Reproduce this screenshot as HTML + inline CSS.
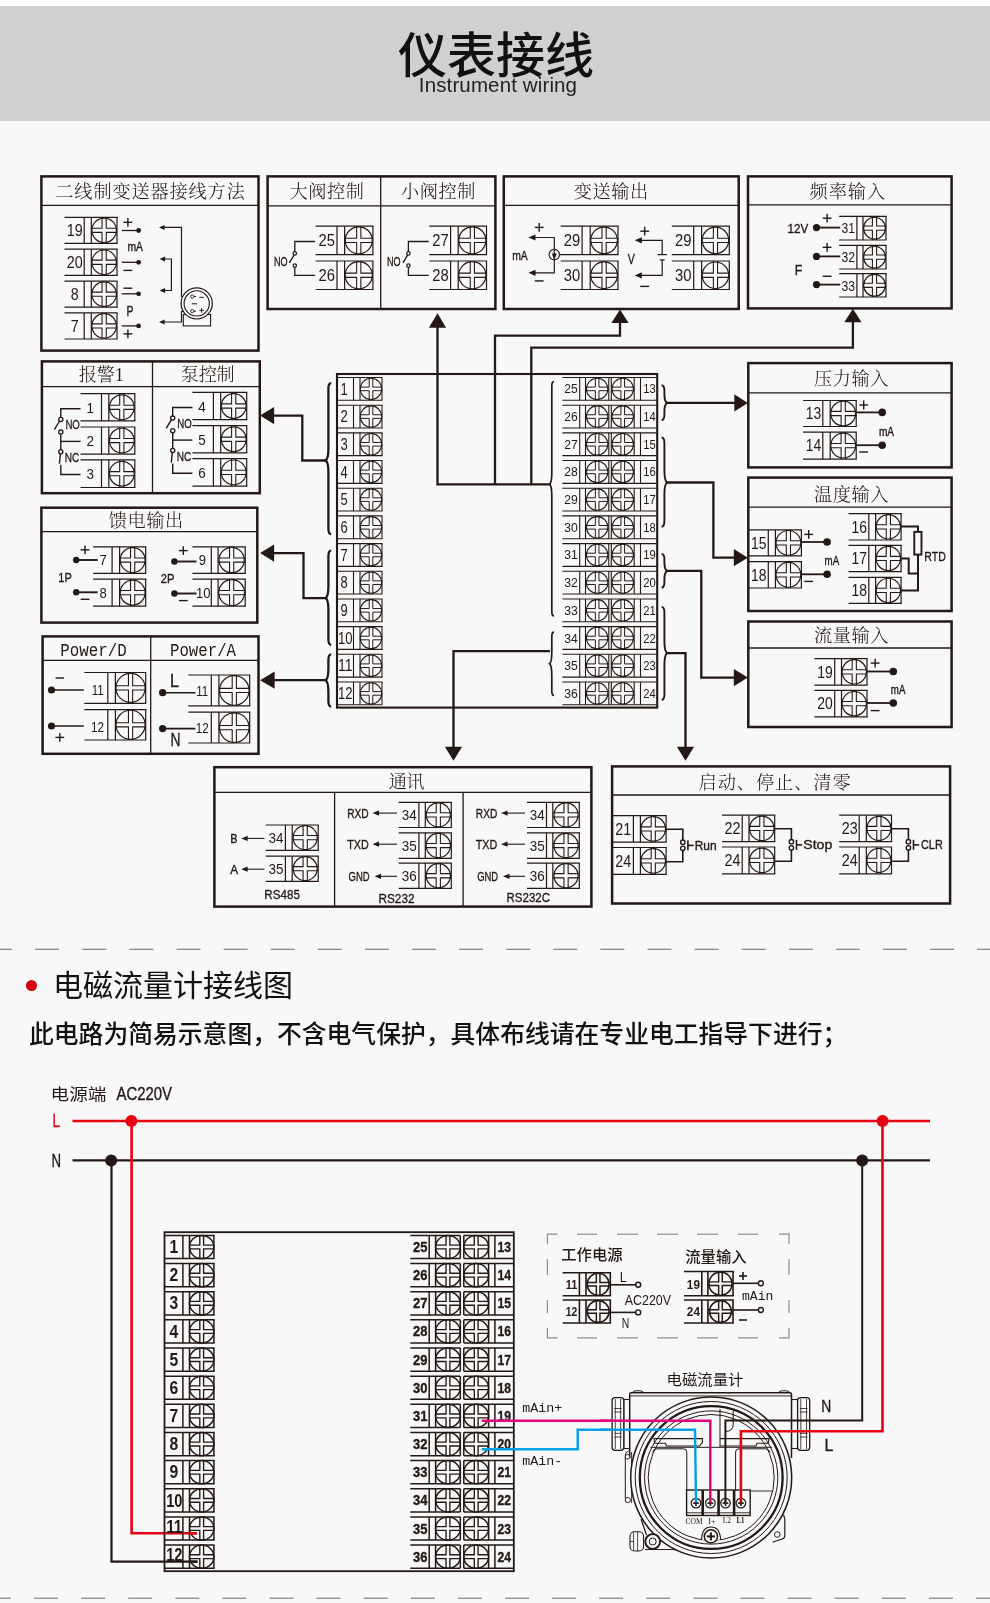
<!DOCTYPE html>
<html lang="zh-CN"><head><meta charset="utf-8"><title>仪表接线</title>
<style>
html,body{margin:0;padding:0;background:#fff;}
body{width:990px;height:1603px;position:relative;overflow:hidden;font-family:"Liberation Sans","Noto Sans CJK SC",sans-serif;color:#231815;}
.page{position:absolute;left:0;top:5.8px;width:990px;height:1598px;background:#f8f8f8;}
.hdr{position:absolute;left:0;top:5.8px;width:990px;height:114.8px;background:#d1cfd0;}
.hdr h1{position:absolute;left:0.6px;width:990px;top:22.3px;margin:0;text-align:center;font-size:49px;line-height:56px;font-weight:500;letter-spacing:0;color:#111;}
.hdr p{position:absolute;left:2.5px;width:990px;top:67.2px;margin:0;text-align:center;font-size:20.5px;line-height:24px;font-weight:400;letter-spacing:0.13px;color:#222;}
.dash{position:absolute;left:0;width:990px;height:0;border-top:1px solid #8a8a8a;}
.sec{position:absolute;left:53px;top:966.3px;margin:0;font-size:30px;line-height:40px;font-weight:400;color:#111;white-space:nowrap;}
.bul{position:absolute;left:25.5px;top:980.2px;width:11px;height:11px;border-radius:50%;background:#d7000f;}
.note{position:absolute;left:29px;top:1017px;margin:0;font-size:24.8px;line-height:36px;font-weight:500;color:#111;white-space:nowrap;}
svg{position:absolute;left:0;top:0;will-change:transform;}
.hdr h1,.hdr p,.sec,.note{will-change:transform;}
path,rect,circle,ellipse{fill:none;stroke:#231815;stroke-width:1.2;stroke-miterlimit:10;}
text{text-anchor:middle;fill:#231815;font-weight:400;}
text.s{font-family:"Liberation Sans","Noto Sans CJK SC",sans-serif;}
text.r{font-family:"Liberation Serif","Noto Serif CJK SC",serif;}
text.m{font-family:"Liberation Mono","Noto Sans CJK SC",monospace;}
text.b{stroke:#231815;stroke-width:0.35px;}
</style></head><body>
<div class="page"></div>
<div class="hdr"><h1>仪表接线</h1><p>Instrument wiring</p></div>
<span class="bul"></span><h2 class="sec">电磁流量计接线图</h2>
<p class="note">此电路为简易示意图，不含电气保护，具体布线请在专业电工指导下进行；</p>
<svg width="990" height="1603" viewBox="0 0 990 1603">
<line x1="-11.9" y1="949.25" x2="990" y2="949.25" stroke="#6a6a6a" stroke-width="1" stroke-dasharray="24 23.1"/>
<line x1="-13.1" y1="1598.2" x2="990" y2="1598.2" stroke="#6a6a6a" stroke-width="1" stroke-dasharray="24 23.1"/>
<rect x="41.4" y="176.4" width="217.1" height="174.2" style="stroke-width:2.5"/>
<path d="M41.4 205.4L258.5 205.4" style="stroke-width:1.3"/>
<text class="r" x="150.08" y="198.23" font-size="18.2" style="font-weight:300" textLength="189.56" lengthAdjust="spacing">二线制变送器接线方法</text>
<path d="M64.5 217.3L117.6 217.3"/>
<path d="M64.5 243.3L117.6 243.3"/>
<path d="M84.2 217.3L84.2 243.3"/>
<path d="M91.3 217.3L91.3 243.3"/>
<path d="M117 217.3L117 243.3"/>
<circle cx="104.15" cy="230.3" r="12.25"/>
<path d="M102.05 217.3V228.2H91.3 M106.25 217.3V228.2H117 M102.05 243.3V232.4H91.3 M106.25 243.3V232.4H117" style="stroke-width:1.08"/>
<text class="s" x="74.85" y="236.24" font-size="16.5" textLength="15.96" lengthAdjust="spacingAndGlyphs">19</text>
<path d="M64.5 249.2L117.6 249.2"/>
<path d="M64.5 275.3L117.6 275.3"/>
<path d="M84.2 249.2L84.2 275.3"/>
<path d="M91.3 249.2L91.3 275.3"/>
<path d="M117 249.2L117 275.3"/>
<circle cx="104.15" cy="262.25" r="12.25"/>
<path d="M102.05 249.2V260.15H91.3 M106.25 249.2V260.15H117 M102.05 275.3V264.35H91.3 M106.25 275.3V264.35H117" style="stroke-width:1.08"/>
<text class="s" x="74.85" y="268.19" font-size="16.5" textLength="15.96" lengthAdjust="spacingAndGlyphs">20</text>
<path d="M64.5 281.2L117.6 281.2"/>
<path d="M64.5 307.2L117.6 307.2"/>
<path d="M84.2 281.2L84.2 307.2"/>
<path d="M91.3 281.2L91.3 307.2"/>
<path d="M117 281.2L117 307.2"/>
<circle cx="104.15" cy="294.2" r="12.25"/>
<path d="M102.05 281.2V292.1H91.3 M106.25 281.2V292.1H117 M102.05 307.2V296.3H91.3 M106.25 307.2V296.3H117" style="stroke-width:1.08"/>
<text class="s" x="74.85" y="300.14" font-size="16.5" textLength="7.98" lengthAdjust="spacingAndGlyphs">8</text>
<path d="M64.5 312.9L117.6 312.9"/>
<path d="M64.5 339L117.6 339"/>
<path d="M84.2 312.9L84.2 339"/>
<path d="M91.3 312.9L91.3 339"/>
<path d="M117 312.9L117 339"/>
<circle cx="104.15" cy="325.95" r="12.25"/>
<path d="M102.05 312.9V323.85H91.3 M106.25 312.9V323.85H117 M102.05 339V328.05H91.3 M106.25 339V328.05H117" style="stroke-width:1.08"/>
<text class="s" x="74.85" y="331.89" font-size="16.5" textLength="7.98" lengthAdjust="spacingAndGlyphs">7</text>
<path d="M121.8 230.5L137 230.5" style="stroke-width:1.3"/>
<circle cx="138.6" cy="230.5" r="2.4" style="fill:#231815;stroke:none"/>
<path d="M121.8 262.3L137 262.3" style="stroke-width:1.3"/>
<circle cx="138.6" cy="262.3" r="2.4" style="fill:#231815;stroke:none"/>
<path d="M121.8 293.8L137 293.8" style="stroke-width:1.3"/>
<circle cx="138.6" cy="293.8" r="2.4" style="fill:#231815;stroke:none"/>
<path d="M121.8 325.9L137 325.9" style="stroke-width:1.3"/>
<circle cx="138.6" cy="325.9" r="2.4" style="fill:#231815;stroke:none"/>
<path d="M123.5 222.3L132.3 222.3" style="stroke-width:1.4"/>
<path d="M127.9 217.9L127.9 226.7" style="stroke-width:1.4"/>
<path d="M123.5 270.4L132.3 270.4" style="stroke-width:1.4"/>
<path d="M123.5 288.2L132.3 288.2" style="stroke-width:1.4"/>
<path d="M123.5 333.9L132.3 333.9" style="stroke-width:1.4"/>
<path d="M127.9 329.5L127.9 338.3" style="stroke-width:1.4"/>
<text class="s b" x="127.5" y="250.5" font-size="12.5" textLength="15.5" lengthAdjust="spacingAndGlyphs" style="text-anchor:start">mA</text>
<text class="s b" x="126.5" y="316.34" font-size="14" textLength="7" lengthAdjust="spacingAndGlyphs" style="text-anchor:start">P</text>
<path d="M163 227.4L181.5 227.4L181.5 296.5L190 296.5"/>
<polygon points="159,227.4 164.6,224.9 164.6,229.9" style="fill:#231815;stroke:none"/>
<path d="M163 259L171.4 259L171.4 290.5L163 290.5"/>
<polygon points="159.5,259 165.1,256.5 165.1,261.5" style="fill:#231815;stroke:none"/>
<polygon points="159.5,290.5 165.1,288 165.1,293" style="fill:#231815;stroke:none"/>
<path d="M163 322L181.5 322L181.5 311.5L190 311.5"/>
<polygon points="159,322 164.6,319.5 164.6,324.5" style="fill:#231815;stroke:none"/>
<rect x="183.3" y="314.5" width="27.3" height="11.4" style="stroke-width:1.1;fill:#f8f8f8"/>
<circle cx="196.7" cy="303.4" r="15.6" style="fill:#f8f8f8"/>
<circle cx="196.7" cy="303.4" r="12.6" style="stroke-width:1.1"/>
<circle cx="192.3" cy="296.5" r="1.6" style="stroke-width:0.9"/>
<circle cx="192.3" cy="311.2" r="1.6" style="stroke-width:0.9"/>
<path d="M193.9 296.5L196 296.5" style="stroke-width:0.9"/>
<path d="M193.9 311.2L196 311.2" style="stroke-width:0.9"/>
<path d="M199.4 297.3L203.8 297.3" style="stroke-width:1"/>
<path d="M191.9 303.8L197.1 303.8" style="stroke-width:1"/>
<path d="M199.4 310.4L203.8 310.4" style="stroke-width:1"/>
<path d="M201.6 308.2L201.6 312.6" style="stroke-width:1"/>
<rect x="267.6" y="176.4" width="227.8" height="132.6" style="stroke-width:2.5"/>
<path d="M267.6 205.8L495.4 205.8" style="stroke-width:1.3"/>
<path d="M380.7 176.4L380.7 309" style="stroke-width:1.3"/>
<text class="r" x="326.7" y="198.23" font-size="18.2" style="font-weight:300" textLength="74.4" lengthAdjust="spacing">大阀控制</text>
<text class="r" x="438.2" y="198.23" font-size="18.2" style="font-weight:300" textLength="74.4" lengthAdjust="spacing">小阀控制</text>
<path d="M315.6 226.1L373.5 226.1"/>
<path d="M315.6 254.6L373.5 254.6"/>
<path d="M337 226.1L337 254.6"/>
<path d="M344.6 226.1L344.6 254.6"/>
<path d="M372.9 226.1L372.9 254.6"/>
<circle cx="358.75" cy="240.35" r="13.55"/>
<path d="M356.65 226.1V238.25H344.6 M360.85 226.1V238.25H372.9 M356.65 254.6V242.45H344.6 M360.85 254.6V242.45H372.9" style="stroke-width:1.08"/>
<text class="s" x="326.8" y="246.47" font-size="17" textLength="16.45" lengthAdjust="spacingAndGlyphs">25</text>
<path d="M315.6 261L373.5 261"/>
<path d="M315.6 289.5L373.5 289.5"/>
<path d="M337 261L337 289.5"/>
<path d="M344.6 261L344.6 289.5"/>
<path d="M372.9 261L372.9 289.5"/>
<circle cx="358.75" cy="275.25" r="13.55"/>
<path d="M356.65 261V273.15H344.6 M360.85 261V273.15H372.9 M356.65 289.5V277.35H344.6 M360.85 289.5V277.35H372.9" style="stroke-width:1.08"/>
<text class="s" x="326.8" y="281.37" font-size="17" textLength="16.45" lengthAdjust="spacingAndGlyphs">26</text>
<path d="M315.1 241.5L294.8 241.5L294.8 251.6" style="stroke-width:1.3"/>
<circle cx="294.8" cy="253.4" r="1.7"/>
<path d="M315.1 275.4L294.8 275.4L294.8 267.4" style="stroke-width:1.3"/>
<circle cx="294.8" cy="265.6" r="1.7"/>
<path d="M294.1 254.9L289.4 262.8" style="stroke-width:1.3"/>
<text class="s b" x="273.9" y="265.68" font-size="13" textLength="13.6" lengthAdjust="spacingAndGlyphs" style="text-anchor:start">NO</text>
<path d="M429.2 226.1L487.1 226.1"/>
<path d="M429.2 254.6L487.1 254.6"/>
<path d="M450.6 226.1L450.6 254.6"/>
<path d="M458.2 226.1L458.2 254.6"/>
<path d="M486.5 226.1L486.5 254.6"/>
<circle cx="472.35" cy="240.35" r="13.55"/>
<path d="M470.25 226.1V238.25H458.2 M474.45 226.1V238.25H486.5 M470.25 254.6V242.45H458.2 M474.45 254.6V242.45H486.5" style="stroke-width:1.08"/>
<text class="s" x="440.4" y="246.47" font-size="17" textLength="16.45" lengthAdjust="spacingAndGlyphs">27</text>
<path d="M429.2 261L487.1 261"/>
<path d="M429.2 289.5L487.1 289.5"/>
<path d="M450.6 261L450.6 289.5"/>
<path d="M458.2 261L458.2 289.5"/>
<path d="M486.5 261L486.5 289.5"/>
<circle cx="472.35" cy="275.25" r="13.55"/>
<path d="M470.25 261V273.15H458.2 M474.45 261V273.15H486.5 M470.25 289.5V277.35H458.2 M474.45 289.5V277.35H486.5" style="stroke-width:1.08"/>
<text class="s" x="440.4" y="281.37" font-size="17" textLength="16.45" lengthAdjust="spacingAndGlyphs">28</text>
<path d="M428.7 241.5L408.4 241.5L408.4 251.6" style="stroke-width:1.3"/>
<circle cx="408.4" cy="253.4" r="1.7"/>
<path d="M428.7 275.4L408.4 275.4L408.4 267.4" style="stroke-width:1.3"/>
<circle cx="408.4" cy="265.6" r="1.7"/>
<path d="M407.7 254.9L403 262.8" style="stroke-width:1.3"/>
<text class="s b" x="387" y="265.68" font-size="13" textLength="13.6" lengthAdjust="spacingAndGlyphs" style="text-anchor:start">NO</text>
<rect x="503.8" y="176.4" width="234.9" height="132.6" style="stroke-width:2.5"/>
<path d="M503.8 205.4L738.7 205.4" style="stroke-width:1.3"/>
<text class="r" x="611" y="198.23" font-size="18.2" style="font-weight:300" textLength="74.4" lengthAdjust="spacing">变送输出</text>
<path d="M560.7 226.1L618.6 226.1"/>
<path d="M560.7 254.6L618.6 254.6"/>
<path d="M582.1 226.1L582.1 254.6"/>
<path d="M590.2 226.1L590.2 254.6"/>
<path d="M618 226.1L618 254.6"/>
<circle cx="604.1" cy="240.35" r="13.3"/>
<path d="M602 226.1V238.25H590.2 M606.2 226.1V238.25H618 M602 254.6V242.45H590.2 M606.2 254.6V242.45H618" style="stroke-width:1.08"/>
<text class="s" x="571.9" y="246.47" font-size="17" textLength="16.45" lengthAdjust="spacingAndGlyphs">29</text>
<path d="M560.7 261L618.6 261"/>
<path d="M560.7 289.5L618.6 289.5"/>
<path d="M582.1 261L582.1 289.5"/>
<path d="M590.2 261L590.2 289.5"/>
<path d="M618 261L618 289.5"/>
<circle cx="604.1" cy="275.25" r="13.3"/>
<path d="M602 261V273.15H590.2 M606.2 261V273.15H618 M602 289.5V277.35H590.2 M606.2 289.5V277.35H618" style="stroke-width:1.08"/>
<text class="s" x="571.9" y="281.37" font-size="17" textLength="16.45" lengthAdjust="spacingAndGlyphs">30</text>
<path d="M671.8 226.1L729.9 226.1"/>
<path d="M671.8 254.6L729.9 254.6"/>
<path d="M693.7 226.1L693.7 254.6"/>
<path d="M701.6 226.1L701.6 254.6"/>
<path d="M729.3 226.1L729.3 254.6"/>
<circle cx="715.45" cy="240.35" r="13.25"/>
<path d="M713.35 226.1V238.25H701.6 M717.55 226.1V238.25H729.3 M713.35 254.6V242.45H701.6 M717.55 254.6V242.45H729.3" style="stroke-width:1.08"/>
<text class="s" x="683.25" y="246.47" font-size="17" textLength="16.45" lengthAdjust="spacingAndGlyphs">29</text>
<path d="M671.8 261L729.9 261"/>
<path d="M671.8 289.5L729.9 289.5"/>
<path d="M693.7 261L693.7 289.5"/>
<path d="M701.6 261L701.6 289.5"/>
<path d="M729.3 261L729.3 289.5"/>
<circle cx="715.45" cy="275.25" r="13.25"/>
<path d="M713.35 261V273.15H701.6 M717.55 261V273.15H729.3 M713.35 289.5V277.35H701.6 M717.55 289.5V277.35H729.3" style="stroke-width:1.08"/>
<text class="s" x="683.25" y="281.37" font-size="17" textLength="16.45" lengthAdjust="spacingAndGlyphs">30</text>
<text class="s b" x="512.2" y="260.18" font-size="13" textLength="15.6" lengthAdjust="spacingAndGlyphs" style="text-anchor:start">mA</text>
<path d="M533 237.5L554.3 237.5L554.3 272.8L533 272.8"/>
<polygon points="528.5,237.5 535.5,234.4 535.5,240.6" style="fill:#231815;stroke:none"/>
<polygon points="528.5,272.8 535.5,269.7 535.5,275.9" style="fill:#231815;stroke:none"/>
<circle cx="554.3" cy="254.6" r="5.2" style="stroke-width:1.1"/>
<polygon points="554.3,259.4 551.7,253.4 556.9,253.4" style="fill:#231815;stroke:none"/>
<path d="M559.5 254.6L561 254.6"/>
<path d="M534.8 227.4L543.6 227.4" style="stroke-width:1.4"/>
<path d="M539.2 223L539.2 231.8" style="stroke-width:1.4"/>
<path d="M534.8 280.9L543.6 280.9" style="stroke-width:1.4"/>
<text class="s b" x="627.8" y="264.34" font-size="14" textLength="7" lengthAdjust="spacingAndGlyphs" style="text-anchor:start">V</text>
<path d="M639 240.3L662.2 240.3L662.2 254.6"/>
<path d="M657.5 254.6L667 254.6"/>
<path d="M659.7 259.9L664.7 259.9"/>
<path d="M662.2 259.9L662.2 275.4L639 275.4"/>
<polygon points="634.8,240.3 641.8,237.2 641.8,243.4" style="fill:#231815;stroke:none"/>
<polygon points="634.8,275.4 641.8,272.3 641.8,278.5" style="fill:#231815;stroke:none"/>
<path d="M640.3 231.2L649.1 231.2" style="stroke-width:1.4"/>
<path d="M644.7 226.8L644.7 235.6" style="stroke-width:1.4"/>
<path d="M640.3 286.4L649.1 286.4" style="stroke-width:1.4"/>
<rect x="748" y="176.4" width="203.6" height="132" style="stroke-width:2.5"/>
<path d="M748 204.9L951.6 204.9" style="stroke-width:1.3"/>
<text class="r" x="847.37" y="198.23" font-size="18.2" style="font-weight:300" textLength="75.73" lengthAdjust="spacing">频率输入</text>
<path d="M839.2 216.3L886.6 216.3"/>
<path d="M839.2 240L886.6 240"/>
<path d="M856.9 216.3L856.9 240"/>
<path d="M863 216.3L863 240"/>
<path d="M886 216.3L886 240"/>
<circle cx="874.5" cy="228.15" r="10.9"/>
<path d="M872.4 216.3V226.05H863 M876.6 216.3V226.05H886 M872.4 240V230.25H863 M876.6 240V230.25H886" style="stroke-width:1.08"/>
<text class="s" x="848.3" y="233.37" font-size="14.5" textLength="13.5" lengthAdjust="spacingAndGlyphs">31</text>
<path d="M816.5 227.6L840.2 227.6" style="stroke-width:1.8"/>
<circle cx="816.5" cy="227.6" r="3.6" style="fill:#231815;stroke:none"/>
<path d="M839.2 245.3L886.6 245.3"/>
<path d="M839.2 269L886.6 269"/>
<path d="M856.9 245.3L856.9 269"/>
<path d="M863 245.3L863 269"/>
<path d="M886 245.3L886 269"/>
<circle cx="874.5" cy="257.15" r="10.9"/>
<path d="M872.4 245.3V255.05H863 M876.6 245.3V255.05H886 M872.4 269V259.25H863 M876.6 269V259.25H886" style="stroke-width:1.08"/>
<text class="s" x="848.3" y="262.37" font-size="14.5" textLength="13.5" lengthAdjust="spacingAndGlyphs">32</text>
<path d="M816.5 256.4L840.2 256.4" style="stroke-width:1.8"/>
<circle cx="816.5" cy="256.4" r="3.6" style="fill:#231815;stroke:none"/>
<path d="M839.2 273.6L886.6 273.6"/>
<path d="M839.2 297L886.6 297"/>
<path d="M856.9 273.6L856.9 297"/>
<path d="M863 273.6L863 297"/>
<path d="M886 273.6L886 297"/>
<circle cx="874.5" cy="285.3" r="10.9"/>
<path d="M872.4 273.6V283.2H863 M876.6 273.6V283.2H886 M872.4 297V287.4H863 M876.6 297V287.4H886" style="stroke-width:1.08"/>
<text class="s" x="848.3" y="290.52" font-size="14.5" textLength="13.5" lengthAdjust="spacingAndGlyphs">33</text>
<path d="M816.5 284.6L840.2 284.6" style="stroke-width:1.8"/>
<circle cx="816.5" cy="284.6" r="3.6" style="fill:#231815;stroke:none"/>
<path d="M822.7 218.2L831.5 218.2" style="stroke-width:1.4"/>
<path d="M827.1 213.8L827.1 222.6" style="stroke-width:1.4"/>
<path d="M822.7 247.3L831.5 247.3" style="stroke-width:1.4"/>
<path d="M827.1 242.9L827.1 251.7" style="stroke-width:1.4"/>
<path d="M822.7 276.3L831.5 276.3" style="stroke-width:1.4"/>
<text class="s b" x="787.5" y="232.98" font-size="13" textLength="20.7" lengthAdjust="spacingAndGlyphs" style="text-anchor:start">12V</text>
<text class="s b" x="794.7" y="274.58" font-size="15.5" textLength="7.6" lengthAdjust="spacingAndGlyphs" style="text-anchor:start">F</text>
<rect x="41.9" y="361.4" width="217.9" height="131.8" style="stroke-width:2.5"/>
<path d="M41.9 386.6L259.8 386.6" style="stroke-width:1.3"/>
<path d="M152.5 361.4L152.5 493.2" style="stroke-width:1.3"/>
<text class="r" x="101.3" y="381.1" font-size="18.2" textLength="45.2" lengthAdjust="spacingAndGlyphs" style="font-weight:300">报警1</text>
<text class="r" x="207.8" y="381.23" font-size="18.2" style="font-weight:300" textLength="54" lengthAdjust="spacing">泵控制</text>
<path d="M80.5 393.7L135.4 393.7"/>
<path d="M80.5 420.9L135.4 420.9"/>
<path d="M101.5 393.7L101.5 420.9"/>
<path d="M108.8 393.7L108.8 420.9"/>
<path d="M134.8 393.7L134.8 420.9"/>
<circle cx="121.8" cy="407.3" r="12.4"/>
<path d="M119.7 393.7V405.2H108.8 M123.9 393.7V405.2H134.8 M119.7 420.9V409.4H108.8 M123.9 420.9V409.4H134.8" style="stroke-width:1.08"/>
<text class="s" x="90.3" y="412.88" font-size="15.5" textLength="7.5" lengthAdjust="spacingAndGlyphs">1</text>
<path d="M80.5 427L135.4 427"/>
<path d="M80.5 454.1L135.4 454.1"/>
<path d="M101.5 427L101.5 454.1"/>
<path d="M108.8 427L108.8 454.1"/>
<path d="M134.8 427L134.8 454.1"/>
<circle cx="121.8" cy="440.55" r="12.4"/>
<path d="M119.7 427V438.45H108.8 M123.9 427V438.45H134.8 M119.7 454.1V442.65H108.8 M123.9 454.1V442.65H134.8" style="stroke-width:1.08"/>
<text class="s" x="90.3" y="446.13" font-size="15.5" textLength="7.5" lengthAdjust="spacingAndGlyphs">2</text>
<path d="M80.5 459.9L135.4 459.9"/>
<path d="M80.5 487.5L135.4 487.5"/>
<path d="M101.5 459.9L101.5 487.5"/>
<path d="M108.8 459.9L108.8 487.5"/>
<path d="M134.8 459.9L134.8 487.5"/>
<circle cx="121.8" cy="473.7" r="12.4"/>
<path d="M119.7 459.9V471.6H108.8 M123.9 459.9V471.6H134.8 M119.7 487.5V475.8H108.8 M123.9 487.5V475.8H134.8" style="stroke-width:1.08"/>
<text class="s" x="90.3" y="479.28" font-size="15.5" textLength="7.5" lengthAdjust="spacingAndGlyphs">3</text>
<path d="M80.5 408.8L60.8 408.8L60.8 417.2" style="stroke-width:1.4"/>
<circle cx="60.8" cy="419.4" r="2.1" style="stroke-width:1.3"/>
<path d="M59.6 421L54.3 429.7" style="stroke-width:1.4"/>
<circle cx="60.8" cy="432.1" r="2.1" style="stroke-width:1.3"/>
<path d="M60.8 434.2L60.8 449.6" style="stroke-width:1.4"/>
<path d="M60.8 441.4L80.5 441.4" style="stroke-width:1.4"/>
<circle cx="60.8" cy="451.8" r="2.1" style="stroke-width:1.3"/>
<path d="M60.4 453.9L59.4 463.8" style="stroke-width:1.4"/>
<path d="M60.8 464.8L60.8 474.5L80.5 474.5" style="stroke-width:1.4"/>
<text class="s b" x="65.4" y="428.86" font-size="13.5" textLength="14.5" lengthAdjust="spacingAndGlyphs" style="text-anchor:start">NO</text>
<text class="s b" x="64.8" y="461.86" font-size="13.5" textLength="14.5" lengthAdjust="spacingAndGlyphs" style="text-anchor:start">NC</text>
<path d="M192.4 392.4L247.3 392.4"/>
<path d="M192.4 419.6L247.3 419.6"/>
<path d="M213.4 392.4L213.4 419.6"/>
<path d="M220.7 392.4L220.7 419.6"/>
<path d="M246.7 392.4L246.7 419.6"/>
<circle cx="233.7" cy="406" r="12.4"/>
<path d="M231.6 392.4V403.9H220.7 M235.8 392.4V403.9H246.7 M231.6 419.6V408.1H220.7 M235.8 419.6V408.1H246.7" style="stroke-width:1.08"/>
<text class="s" x="202" y="411.58" font-size="15.5" textLength="7.5" lengthAdjust="spacingAndGlyphs">4</text>
<path d="M192.4 425.7L247.3 425.7"/>
<path d="M192.4 452.8L247.3 452.8"/>
<path d="M213.4 425.7L213.4 452.8"/>
<path d="M220.7 425.7L220.7 452.8"/>
<path d="M246.7 425.7L246.7 452.8"/>
<circle cx="233.7" cy="439.25" r="12.4"/>
<path d="M231.6 425.7V437.15H220.7 M235.8 425.7V437.15H246.7 M231.6 452.8V441.35H220.7 M235.8 452.8V441.35H246.7" style="stroke-width:1.08"/>
<text class="s" x="202" y="444.83" font-size="15.5" textLength="7.5" lengthAdjust="spacingAndGlyphs">5</text>
<path d="M192.4 458.6L247.3 458.6"/>
<path d="M192.4 486.2L247.3 486.2"/>
<path d="M213.4 458.6L213.4 486.2"/>
<path d="M220.7 458.6L220.7 486.2"/>
<path d="M246.7 458.6L246.7 486.2"/>
<circle cx="233.7" cy="472.4" r="12.4"/>
<path d="M231.6 458.6V470.3H220.7 M235.8 458.6V470.3H246.7 M231.6 486.2V474.5H220.7 M235.8 486.2V474.5H246.7" style="stroke-width:1.08"/>
<text class="s" x="202" y="477.98" font-size="15.5" textLength="7.5" lengthAdjust="spacingAndGlyphs">6</text>
<path d="M192.4 407.5L172.7 407.5L172.7 415.9" style="stroke-width:1.4"/>
<circle cx="172.7" cy="418.1" r="2.1" style="stroke-width:1.3"/>
<path d="M171.5 419.7L166.2 428.4" style="stroke-width:1.4"/>
<circle cx="172.7" cy="430.8" r="2.1" style="stroke-width:1.3"/>
<path d="M172.7 432.9L172.7 448.3" style="stroke-width:1.4"/>
<path d="M172.7 440.1L192.4 440.1" style="stroke-width:1.4"/>
<circle cx="172.7" cy="450.5" r="2.1" style="stroke-width:1.3"/>
<path d="M172.3 452.6L171.3 462.5" style="stroke-width:1.4"/>
<path d="M172.7 463.5L172.7 473.2L192.4 473.2" style="stroke-width:1.4"/>
<text class="s b" x="177.3" y="427.56" font-size="13.5" textLength="14.5" lengthAdjust="spacingAndGlyphs" style="text-anchor:start">NO</text>
<text class="s b" x="176.7" y="460.56" font-size="13.5" textLength="14.5" lengthAdjust="spacingAndGlyphs" style="text-anchor:start">NC</text>
<rect x="41.4" y="507.7" width="215.9" height="114.9" style="stroke-width:2.5"/>
<path d="M41.4 531.7L257.3 531.7" style="stroke-width:1.3"/>
<text class="r" x="146" y="527.03" font-size="18.2" style="font-weight:300" textLength="74.4" lengthAdjust="spacing">馈电输出</text>
<path d="M93.1 546.8L146.3 546.8"/>
<path d="M93.1 573.3L146.3 573.3"/>
<path d="M112.1 546.8L112.1 573.3"/>
<path d="M119.6 546.8L119.6 573.3"/>
<path d="M145.7 546.8L145.7 573.3"/>
<circle cx="132.65" cy="560.05" r="12.45"/>
<path d="M130.55 546.8V557.95H119.6 M134.75 546.8V557.95H145.7 M130.55 573.3V562.15H119.6 M134.75 573.3V562.15H145.7" style="stroke-width:1.08"/>
<text class="s" x="103.1" y="565.45" font-size="15" textLength="7.26" lengthAdjust="spacingAndGlyphs">7</text>
<path d="M93.1 579.1L146.3 579.1"/>
<path d="M93.1 606.2L146.3 606.2"/>
<path d="M112.1 579.1L112.1 606.2"/>
<path d="M119.6 579.1L119.6 606.2"/>
<path d="M145.7 579.1L145.7 606.2"/>
<circle cx="132.65" cy="592.65" r="12.45"/>
<path d="M130.55 579.1V590.55H119.6 M134.75 579.1V590.55H145.7 M130.55 606.2V594.75H119.6 M134.75 606.2V594.75H145.7" style="stroke-width:1.08"/>
<text class="s" x="103.1" y="598.05" font-size="15" textLength="7.26" lengthAdjust="spacingAndGlyphs">8</text>
<path d="M76.2 560L97.7 560" style="stroke-width:1.9"/>
<circle cx="76.2" cy="560" r="3.2" style="fill:#231815;stroke:none"/>
<path d="M76.2 592.3L97.7 592.3" style="stroke-width:1.9"/>
<circle cx="76.2" cy="592.3" r="3.2" style="fill:#231815;stroke:none"/>
<path d="M80.6 549.8L89.4 549.8" style="stroke-width:1.4"/>
<path d="M85 545.4L85 554.2" style="stroke-width:1.4"/>
<path d="M80.6 599.3L89.4 599.3" style="stroke-width:1.4"/>
<text class="s b" x="58.3" y="581.8" font-size="12.5" textLength="13.4" lengthAdjust="spacingAndGlyphs" style="text-anchor:start">1P</text>
<path d="M192.4 546.8L245.8 546.8"/>
<path d="M192.4 573.3L245.8 573.3"/>
<path d="M211.3 546.8L211.3 573.3"/>
<path d="M218.1 546.8L218.1 573.3"/>
<path d="M245.2 546.8L245.2 573.3"/>
<circle cx="231.65" cy="560.05" r="12.65"/>
<path d="M229.55 546.8V557.95H218.1 M233.75 546.8V557.95H245.2 M229.55 573.3V562.15H218.1 M233.75 573.3V562.15H245.2" style="stroke-width:1.08"/>
<text class="s" x="202.35" y="565.45" font-size="15" textLength="7.26" lengthAdjust="spacingAndGlyphs">9</text>
<path d="M192.4 579.1L245.8 579.1"/>
<path d="M192.4 606.2L245.8 606.2"/>
<path d="M211.3 579.1L211.3 606.2"/>
<path d="M218.1 579.1L218.1 606.2"/>
<path d="M245.2 579.1L245.2 606.2"/>
<circle cx="231.65" cy="592.65" r="12.95"/>
<path d="M229.55 579.1V590.55H218.1 M233.75 579.1V590.55H245.2 M229.55 606.2V594.75H218.1 M233.75 606.2V594.75H245.2" style="stroke-width:1.08"/>
<text class="s" x="203.3" y="598.05" font-size="15" textLength="14.5" lengthAdjust="spacingAndGlyphs">10</text>
<path d="M174.4 561.5L196.5 561.5" style="stroke-width:1.9"/>
<circle cx="174.4" cy="561.5" r="3.2" style="fill:#231815;stroke:none"/>
<path d="M174.4 593.5L196.5 593.5" style="stroke-width:1.9"/>
<circle cx="174.4" cy="593.5" r="3.2" style="fill:#231815;stroke:none"/>
<path d="M178.9 550.6L187.7 550.6" style="stroke-width:1.4"/>
<path d="M183.3 546.2L183.3 555" style="stroke-width:1.4"/>
<path d="M178.9 600.6L187.7 600.6" style="stroke-width:1.4"/>
<text class="s b" x="160.8" y="583.1" font-size="12.5" textLength="13.6" lengthAdjust="spacingAndGlyphs" style="text-anchor:start">2P</text>
<rect x="42.6" y="636.4" width="215.9" height="117.4" style="stroke-width:2.5"/>
<path d="M42.6 660.4L258.5 660.4" style="stroke-width:1.3"/>
<path d="M150.7 636.4L150.7 753.8" style="stroke-width:1.3"/>
<text class="m" x="93.4" y="656.3" font-size="18.5" textLength="66.5" lengthAdjust="spacingAndGlyphs">Power/D</text>
<text class="m" x="203" y="656.3" font-size="18.5" textLength="66" lengthAdjust="spacingAndGlyphs">Power/A</text>
<path d="M84.3 672.5L146.3 672.5"/>
<path d="M84.3 703.3L146.3 703.3"/>
<path d="M107.8 672.5L107.8 703.3"/>
<path d="M115.4 672.5L115.4 703.3"/>
<path d="M145.7 672.5L145.7 703.3"/>
<circle cx="130.55" cy="687.9" r="14.55"/>
<path d="M128.45 672.5V685.8H115.4 M132.65 672.5V685.8H145.7 M128.45 703.3V690H115.4 M132.65 703.3V690H145.7" style="stroke-width:1.08"/>
<text class="s" x="97.7" y="694.62" font-size="14.5" textLength="12" lengthAdjust="spacingAndGlyphs">11</text>
<path d="M84.3 709.6L146.3 709.6"/>
<path d="M84.3 740L146.3 740"/>
<path d="M107.8 709.6L107.8 740"/>
<path d="M115.4 709.6L115.4 740"/>
<path d="M145.7 709.6L145.7 740"/>
<circle cx="130.55" cy="724.8" r="14.55"/>
<path d="M128.45 709.6V722.7H115.4 M132.65 709.6V722.7H145.7 M128.45 740V726.9H115.4 M132.65 740V726.9H145.7" style="stroke-width:1.08"/>
<text class="s" x="97.5" y="732.02" font-size="14.5" textLength="13" lengthAdjust="spacingAndGlyphs">12</text>
<path d="M51.5 690L83.8 690" style="stroke-width:1.6"/>
<circle cx="51.5" cy="690" r="3.6" style="fill:#231815;stroke:none"/>
<path d="M51.5 726L83.8 726" style="stroke-width:1.6"/>
<circle cx="51.5" cy="726" r="3.6" style="fill:#231815;stroke:none"/>
<path d="M55.6 678L64 678" style="stroke-width:1.4"/>
<path d="M55.4 737.4L64.2 737.4" style="stroke-width:1.4"/>
<path d="M59.8 733L59.8 741.8" style="stroke-width:1.4"/>
<path d="M188.3 675L250.3 675"/>
<path d="M188.3 705.9L250.3 705.9"/>
<path d="M211.3 675L211.3 705.9"/>
<path d="M218.9 675L218.9 705.9"/>
<path d="M249.7 675L249.7 705.9"/>
<circle cx="234.3" cy="690.45" r="14.8"/>
<path d="M232.2 675V688.35H218.9 M236.4 675V688.35H249.7 M232.2 705.9V692.55H218.9 M236.4 705.9V692.55H249.7" style="stroke-width:1.08"/>
<text class="s" x="202.3" y="695.67" font-size="14.5" textLength="12" lengthAdjust="spacingAndGlyphs">11</text>
<path d="M188.3 712.2L250.3 712.2"/>
<path d="M188.3 743L250.3 743"/>
<path d="M211.3 712.2L211.3 743"/>
<path d="M218.9 712.2L218.9 743"/>
<path d="M249.7 712.2L249.7 743"/>
<circle cx="234.3" cy="727.6" r="14.8"/>
<path d="M232.2 712.2V725.5H218.9 M236.4 712.2V725.5H249.7 M232.2 743V729.7H218.9 M236.4 743V729.7H249.7" style="stroke-width:1.08"/>
<text class="s" x="202.3" y="732.82" font-size="14.5" textLength="13" lengthAdjust="spacingAndGlyphs">12</text>
<path d="M162.6 692.7L195.4 692.7" style="stroke-width:1.6"/>
<circle cx="162.6" cy="692.7" r="3.6" style="fill:#231815;stroke:none"/>
<path d="M162.6 728.6L195.4 728.6" style="stroke-width:1.6"/>
<circle cx="162.6" cy="728.6" r="3.6" style="fill:#231815;stroke:none"/>
<text class="s b" x="174.4" y="687.28" font-size="18" textLength="9" lengthAdjust="spacingAndGlyphs">L</text>
<text class="s b" x="175.4" y="746.08" font-size="18" textLength="10" lengthAdjust="spacingAndGlyphs">N</text>
<rect x="214.4" y="767.2" width="377" height="139.4" style="stroke-width:2.5"/>
<path d="M214.4 792.4L591.4 792.4" style="stroke-width:1.3"/>
<path d="M334.6 792.4L334.6 906.6" style="stroke-width:1.3"/>
<path d="M463.1 792.4L463.1 906.6" style="stroke-width:1.3"/>
<text class="r" x="406.6" y="788.13" font-size="18.2" style="font-weight:300" textLength="35.6" lengthAdjust="spacing">通讯</text>
<path d="M265.7 825L318.8 825"/>
<path d="M265.7 850.3L318.8 850.3"/>
<path d="M285.4 825L285.4 850.3"/>
<path d="M292.2 825L292.2 850.3"/>
<path d="M318.2 825L318.2 850.3"/>
<circle cx="305.2" cy="837.65" r="12.05"/>
<path d="M303.1 825V835.55H292.2 M307.3 825V835.55H318.2 M303.1 850.3V839.75H292.2 M307.3 850.3V839.75H318.2" style="stroke-width:1.08"/>
<text class="s" x="276.05" y="843.23" font-size="15.5" textLength="15" lengthAdjust="spacingAndGlyphs">34</text>
<path d="M265.7 856.1L318.8 856.1"/>
<path d="M265.7 881.3L318.8 881.3"/>
<path d="M285.4 856.1L285.4 881.3"/>
<path d="M292.2 856.1L292.2 881.3"/>
<path d="M318.2 856.1L318.2 881.3"/>
<circle cx="305.2" cy="868.7" r="12"/>
<path d="M303.1 856.1V866.6H292.2 M307.3 856.1V866.6H318.2 M303.1 881.3V870.8H292.2 M307.3 881.3V870.8H318.2" style="stroke-width:1.08"/>
<text class="s" x="276.05" y="874.28" font-size="15.5" textLength="15" lengthAdjust="spacingAndGlyphs">35</text>
<text class="s b" x="230.3" y="843.46" font-size="13.5" textLength="7.3" lengthAdjust="spacingAndGlyphs" style="text-anchor:start">B</text>
<path d="M264.4 838.4L245.2 838.4" style="stroke-width:1.1"/>
<polygon points="241.2,838.4 247.7,835.8 247.7,841" style="fill:#231815;stroke:none"/>
<text class="s b" x="230.3" y="874.26" font-size="13.5" textLength="7.8" lengthAdjust="spacingAndGlyphs" style="text-anchor:start">A</text>
<path d="M264.4 869.2L245.2 869.2" style="stroke-width:1.1"/>
<polygon points="241.2,869.2 247.7,866.6 247.7,871.8" style="fill:#231815;stroke:none"/>
<text class="s b" x="282.1" y="899.46" font-size="13.5" textLength="35.5" lengthAdjust="spacingAndGlyphs">RS485</text>
<path d="M398.7 802.3L451.9 802.3"/>
<path d="M398.7 827.5L451.9 827.5"/>
<path d="M418.9 802.3L418.9 827.5"/>
<path d="M425.3 802.3L425.3 827.5"/>
<path d="M451.3 802.3L451.3 827.5"/>
<circle cx="438.3" cy="814.9" r="12"/>
<path d="M436.2 802.3V812.8H425.3 M440.4 802.3V812.8H451.3 M436.2 827.5V817H425.3 M440.4 827.5V817H451.3" style="stroke-width:1.08"/>
<text class="s" x="409.3" y="820.48" font-size="15.5" textLength="15" lengthAdjust="spacingAndGlyphs">34</text>
<path d="M527 802.3L579.9 802.3"/>
<path d="M527 827.5L579.9 827.5"/>
<path d="M546.5 802.3L546.5 827.5"/>
<path d="M552.8 802.3L552.8 827.5"/>
<path d="M579.3 802.3L579.3 827.5"/>
<circle cx="566.05" cy="814.9" r="12"/>
<path d="M563.95 802.3V812.8H552.8 M568.15 802.3V812.8H579.3 M563.95 827.5V817H552.8 M568.15 827.5V817H579.3" style="stroke-width:1.08"/>
<text class="s" x="537.25" y="820.48" font-size="15.5" textLength="15" lengthAdjust="spacingAndGlyphs">34</text>
<path d="M398.7 832.8L451.9 832.8"/>
<path d="M398.7 858.3L451.9 858.3"/>
<path d="M418.9 832.8L418.9 858.3"/>
<path d="M425.3 832.8L425.3 858.3"/>
<path d="M451.3 832.8L451.3 858.3"/>
<circle cx="438.3" cy="845.55" r="12.15"/>
<path d="M436.2 832.8V843.45H425.3 M440.4 832.8V843.45H451.3 M436.2 858.3V847.65H425.3 M440.4 858.3V847.65H451.3" style="stroke-width:1.08"/>
<text class="s" x="409.3" y="851.13" font-size="15.5" textLength="15" lengthAdjust="spacingAndGlyphs">35</text>
<path d="M527 832.8L579.9 832.8"/>
<path d="M527 858.3L579.9 858.3"/>
<path d="M546.5 832.8L546.5 858.3"/>
<path d="M552.8 832.8L552.8 858.3"/>
<path d="M579.3 832.8L579.3 858.3"/>
<circle cx="566.05" cy="845.55" r="12.15"/>
<path d="M563.95 832.8V843.45H552.8 M568.15 832.8V843.45H579.3 M563.95 858.3V847.65H552.8 M568.15 858.3V847.65H579.3" style="stroke-width:1.08"/>
<text class="s" x="537.25" y="851.13" font-size="15.5" textLength="15" lengthAdjust="spacingAndGlyphs">35</text>
<path d="M398.7 863.1L451.9 863.1"/>
<path d="M398.7 888.4L451.9 888.4"/>
<path d="M418.9 863.1L418.9 888.4"/>
<path d="M425.3 863.1L425.3 888.4"/>
<path d="M451.3 863.1L451.3 888.4"/>
<circle cx="438.3" cy="875.75" r="12.05"/>
<path d="M436.2 863.1V873.65H425.3 M440.4 863.1V873.65H451.3 M436.2 888.4V877.85H425.3 M440.4 888.4V877.85H451.3" style="stroke-width:1.08"/>
<text class="s" x="409.3" y="881.33" font-size="15.5" textLength="15" lengthAdjust="spacingAndGlyphs">36</text>
<path d="M527 863.1L579.9 863.1"/>
<path d="M527 888.4L579.9 888.4"/>
<path d="M546.5 863.1L546.5 888.4"/>
<path d="M552.8 863.1L552.8 888.4"/>
<path d="M579.3 863.1L579.3 888.4"/>
<circle cx="566.05" cy="875.75" r="12.05"/>
<path d="M563.95 863.1V873.65H552.8 M568.15 863.1V873.65H579.3 M563.95 888.4V877.85H552.8 M568.15 888.4V877.85H579.3" style="stroke-width:1.08"/>
<text class="s" x="537.25" y="881.33" font-size="15.5" textLength="15" lengthAdjust="spacingAndGlyphs">36</text>
<text class="s b" x="347.2" y="818.16" font-size="13.5" textLength="21.5" lengthAdjust="spacingAndGlyphs" style="text-anchor:start">RXD</text>
<path d="M397 813.1L376.5 813.1" style="stroke-width:1.1"/>
<polygon points="372.5,813.1 379,810.5 379,815.7" style="fill:#231815;stroke:none"/>
<text class="s b" x="475.8" y="818.16" font-size="13.5" textLength="21.5" lengthAdjust="spacingAndGlyphs" style="text-anchor:start">RXD</text>
<path d="M525 813.1L505 813.1" style="stroke-width:1.1"/>
<polygon points="501,813.1 507.5,810.5 507.5,815.7" style="fill:#231815;stroke:none"/>
<text class="s b" x="347.2" y="849.26" font-size="13.5" textLength="21.5" lengthAdjust="spacingAndGlyphs" style="text-anchor:start">TXD</text>
<path d="M397 844.2L376.5 844.2" style="stroke-width:1.1"/>
<polygon points="372.5,844.2 379,841.6 379,846.8" style="fill:#231815;stroke:none"/>
<text class="s b" x="475.8" y="849.26" font-size="13.5" textLength="21.5" lengthAdjust="spacingAndGlyphs" style="text-anchor:start">TXD</text>
<path d="M525 844.2L505 844.2" style="stroke-width:1.1"/>
<polygon points="501,844.2 507.5,841.6 507.5,846.8" style="fill:#231815;stroke:none"/>
<text class="s b" x="348.6" y="881.36" font-size="13.5" textLength="21" lengthAdjust="spacingAndGlyphs" style="text-anchor:start">GND</text>
<path d="M397 876.3L378.5 876.3" style="stroke-width:1.1"/>
<polygon points="374.5,876.3 381,873.7 381,878.9" style="fill:#231815;stroke:none"/>
<text class="s b" x="477.2" y="881.36" font-size="13.5" textLength="21" lengthAdjust="spacingAndGlyphs" style="text-anchor:start">GND</text>
<path d="M525 876.3L507 876.3" style="stroke-width:1.1"/>
<polygon points="503,876.3 509.5,873.7 509.5,878.9" style="fill:#231815;stroke:none"/>
<text class="s b" x="396.5" y="902.76" font-size="13.5" textLength="36" lengthAdjust="spacingAndGlyphs">RS232</text>
<text class="s b" x="528.3" y="902.06" font-size="13.5" textLength="43.5" lengthAdjust="spacingAndGlyphs">RS232C</text>
<rect x="612.1" y="766.4" width="338" height="137.1" style="stroke-width:2.5"/>
<path d="M612.1 795L950.1 795" style="stroke-width:1.3"/>
<text class="r" x="774.61" y="789.03" font-size="18.2" style="font-weight:300" textLength="152.11" lengthAdjust="spacing">启动、停止、清零</text>
<path d="M612.1 815.7L666.7 815.7"/>
<path d="M612.1 842.2L666.7 842.2"/>
<path d="M633.4 815.7L633.4 842.2"/>
<path d="M640.4 815.7L640.4 842.2"/>
<path d="M666.1 815.7L666.1 842.2"/>
<circle cx="653.25" cy="828.95" r="12.25"/>
<path d="M651.15 815.7V826.85H640.4 M655.35 815.7V826.85H666.1 M651.15 842.2V831.05H640.4 M655.35 842.2V831.05H666.1" style="stroke-width:1.08"/>
<text class="s" x="623.25" y="834.89" font-size="16.5" textLength="15.96" lengthAdjust="spacingAndGlyphs">21</text>
<path d="M612.1 847.5L666.7 847.5"/>
<path d="M612.1 874.3L666.7 874.3"/>
<path d="M633.4 847.5L633.4 874.3"/>
<path d="M640.4 847.5L640.4 874.3"/>
<path d="M666.1 847.5L666.1 874.3"/>
<circle cx="653.25" cy="860.9" r="12.25"/>
<path d="M651.15 847.5V858.8H640.4 M655.35 847.5V858.8H666.1 M651.15 874.3V863H640.4 M655.35 874.3V863H666.1" style="stroke-width:1.08"/>
<text class="s" x="623.25" y="866.84" font-size="16.5" textLength="15.96" lengthAdjust="spacingAndGlyphs">24</text>
<path d="M666.1 829.3L682.8 829.3L682.8 839.9" style="stroke-width:1.6"/>
<circle cx="682.8" cy="842.2" r="2.2" style="stroke-width:1.4"/>
<circle cx="682.8" cy="848.3" r="2.2" style="stroke-width:1.4"/>
<path d="M666.1 861.7L682.8 861.7L682.8 850.6" style="stroke-width:1.6"/>
<path d="M687.9 840.3L687.9 850.3" style="stroke-width:1.6"/>
<path d="M687.9 845.4L693.6 845.4" style="stroke-width:1.6"/>
<text class="s b" x="694.7" y="849.88" font-size="13" textLength="22" lengthAdjust="spacingAndGlyphs" style="text-anchor:start">Run</text>
<path d="M722 815.2L775.3 815.2"/>
<path d="M722 841.7L775.3 841.7"/>
<path d="M742.2 815.2L742.2 841.7"/>
<path d="M749 815.2L749 841.7"/>
<path d="M774.7 815.2L774.7 841.7"/>
<circle cx="761.85" cy="828.45" r="12.25"/>
<path d="M759.75 815.2V826.35H749 M763.95 815.2V826.35H774.7 M759.75 841.7V830.55H749 M763.95 841.7V830.55H774.7" style="stroke-width:1.08"/>
<text class="s" x="732.6" y="834.39" font-size="16.5" textLength="15.96" lengthAdjust="spacingAndGlyphs">22</text>
<path d="M722 847L775.3 847"/>
<path d="M722 873.8L775.3 873.8"/>
<path d="M742.2 847L742.2 873.8"/>
<path d="M749 847L749 873.8"/>
<path d="M774.7 847L774.7 873.8"/>
<circle cx="761.85" cy="860.4" r="12.25"/>
<path d="M759.75 847V858.3H749 M763.95 847V858.3H774.7 M759.75 873.8V862.5H749 M763.95 873.8V862.5H774.7" style="stroke-width:1.08"/>
<text class="s" x="732.6" y="866.34" font-size="16.5" textLength="15.96" lengthAdjust="spacingAndGlyphs">24</text>
<path d="M774.7 828.8L791.4 828.8L791.4 839.4" style="stroke-width:1.6"/>
<circle cx="791.4" cy="841.7" r="2.2" style="stroke-width:1.4"/>
<circle cx="791.4" cy="847.8" r="2.2" style="stroke-width:1.4"/>
<path d="M774.7 861.2L791.4 861.2L791.4 850.1" style="stroke-width:1.6"/>
<path d="M796.5 839.8L796.5 849.8" style="stroke-width:1.6"/>
<path d="M796.5 844.9L802.2 844.9" style="stroke-width:1.6"/>
<text class="s b" x="803.3" y="849.38" font-size="13" textLength="29" lengthAdjust="spacingAndGlyphs" style="text-anchor:start">Stop</text>
<path d="M839.2 815.2L892.1 815.2"/>
<path d="M839.2 841.7L892.1 841.7"/>
<path d="M859.2 815.2L859.2 841.7"/>
<path d="M866.3 815.2L866.3 841.7"/>
<path d="M891.5 815.2L891.5 841.7"/>
<circle cx="878.9" cy="828.45" r="12"/>
<path d="M876.8 815.2V826.35H866.3 M881 815.2V826.35H891.5 M876.8 841.7V830.55H866.3 M881 841.7V830.55H891.5" style="stroke-width:1.08"/>
<text class="s" x="849.7" y="834.39" font-size="16.5" textLength="15.96" lengthAdjust="spacingAndGlyphs">23</text>
<path d="M839.2 847L892.1 847"/>
<path d="M839.2 873.8L892.1 873.8"/>
<path d="M859.2 847L859.2 873.8"/>
<path d="M866.3 847L866.3 873.8"/>
<path d="M891.5 847L891.5 873.8"/>
<circle cx="878.9" cy="860.4" r="12"/>
<path d="M876.8 847V858.3H866.3 M881 847V858.3H891.5 M876.8 873.8V862.5H866.3 M881 873.8V862.5H891.5" style="stroke-width:1.08"/>
<text class="s" x="849.7" y="866.34" font-size="16.5" textLength="15.96" lengthAdjust="spacingAndGlyphs">24</text>
<path d="M891.5 828.8L908.4 828.8L908.4 839.4" style="stroke-width:1.6"/>
<circle cx="908.4" cy="841.7" r="2.2" style="stroke-width:1.4"/>
<circle cx="908.4" cy="847.8" r="2.2" style="stroke-width:1.4"/>
<path d="M891.5 861.2L908.4 861.2L908.4 850.1" style="stroke-width:1.6"/>
<path d="M913.5 839.8L913.5 849.8" style="stroke-width:1.6"/>
<path d="M913.5 844.9L919.2 844.9" style="stroke-width:1.6"/>
<text class="s b" x="921" y="849.38" font-size="13" textLength="21.8" lengthAdjust="spacingAndGlyphs" style="text-anchor:start">CLR</text>
<rect x="748.3" y="363.1" width="203.3" height="104.3" style="stroke-width:2.5"/>
<path d="M748.3 392.9L951.6 392.9" style="stroke-width:1.3"/>
<text class="r" x="851.23" y="385.03" font-size="18.2" style="font-weight:300" textLength="74.67" lengthAdjust="spacing">压力输入</text>
<path d="M803.1 400.5L856.8 400.5"/>
<path d="M803.1 426.5L856.8 426.5"/>
<path d="M822.8 400.5L822.8 426.5"/>
<path d="M830.2 400.5L830.2 426.5"/>
<path d="M856.2 400.5L856.2 426.5"/>
<circle cx="843.2" cy="413.5" r="12.4"/>
<path d="M841.1 400.5V411.4H830.2 M845.3 400.5V411.4H856.2 M841.1 426.5V415.6H830.2 M845.3 426.5V415.6H856.2" style="stroke-width:1.08"/>
<text class="s" x="813.45" y="419.26" font-size="16" textLength="15.48" lengthAdjust="spacingAndGlyphs">13</text>
<path d="M803.1 432.1L856.8 432.1"/>
<path d="M803.1 459.1L856.8 459.1"/>
<path d="M822.8 432.1L822.8 459.1"/>
<path d="M830.2 432.1L830.2 459.1"/>
<path d="M856.2 432.1L856.2 459.1"/>
<circle cx="843.2" cy="445.6" r="12.4"/>
<path d="M841.1 432.1V443.5H830.2 M845.3 432.1V443.5H856.2 M841.1 459.1V447.7H830.2 M845.3 459.1V447.7H856.2" style="stroke-width:1.08"/>
<text class="s" x="813.45" y="451.36" font-size="16" textLength="15.48" lengthAdjust="spacingAndGlyphs">14</text>
<path d="M856.2 412.4L882 412.4" style="stroke-width:1.8"/>
<circle cx="882.2" cy="412.4" r="3.8" style="fill:#231815;stroke:none"/>
<path d="M856.2 445.2L882 445.2" style="stroke-width:1.8"/>
<circle cx="882.2" cy="445.2" r="3.8" style="fill:#231815;stroke:none"/>
<path d="M859.3 405L868.1 405" style="stroke-width:1.4"/>
<path d="M863.7 400.6L863.7 409.4" style="stroke-width:1.4"/>
<path d="M859.3 452L868.1 452" style="stroke-width:1.4"/>
<text class="s b" x="878.9" y="435.5" font-size="12.5" textLength="15.1" lengthAdjust="spacingAndGlyphs" style="text-anchor:start">mA</text>
<rect x="748.3" y="477.6" width="203.3" height="133.4" style="stroke-width:2.5"/>
<path d="M748.3 507.2L951.6 507.2" style="stroke-width:1.3"/>
<text class="r" x="851.23" y="500.73" font-size="18.2" style="font-weight:300" textLength="74.67" lengthAdjust="spacing">温度输入</text>
<path d="M748.3 529.9L802 529.9"/>
<path d="M748.3 555.9L802 555.9"/>
<path d="M768.3 529.9L768.3 555.9"/>
<path d="M775.4 529.9L775.4 555.9"/>
<path d="M801.4 529.9L801.4 555.9"/>
<circle cx="788.4" cy="542.9" r="12.4"/>
<path d="M786.3 529.9V540.8H775.4 M790.5 529.9V540.8H801.4 M786.3 555.9V545H775.4 M790.5 555.9V545H801.4" style="stroke-width:1.08"/>
<text class="s" x="758.8" y="548.66" font-size="16" textLength="15.48" lengthAdjust="spacingAndGlyphs">15</text>
<path d="M748.3 561.7L802 561.7"/>
<path d="M748.3 588L802 588"/>
<path d="M768.3 561.7L768.3 588"/>
<path d="M775.4 561.7L775.4 588"/>
<path d="M801.4 561.7L801.4 588"/>
<circle cx="788.4" cy="574.85" r="12.4"/>
<path d="M786.3 561.7V572.75H775.4 M790.5 561.7V572.75H801.4 M786.3 588V576.95H775.4 M790.5 588V576.95H801.4" style="stroke-width:1.08"/>
<text class="s" x="758.8" y="580.61" font-size="16" textLength="15.48" lengthAdjust="spacingAndGlyphs">18</text>
<path d="M801.4 542L827 542" style="stroke-width:1.8"/>
<circle cx="827.1" cy="542" r="3.8" style="fill:#231815;stroke:none"/>
<path d="M801.4 574.3L827 574.3" style="stroke-width:1.8"/>
<circle cx="827.1" cy="574.3" r="3.8" style="fill:#231815;stroke:none"/>
<path d="M804.3 534.4L813.1 534.4" style="stroke-width:1.4"/>
<path d="M808.7 530L808.7 538.8" style="stroke-width:1.4"/>
<path d="M804.3 581.4L813.1 581.4" style="stroke-width:1.4"/>
<text class="s b" x="824.6" y="564.9" font-size="12.5" textLength="14.6" lengthAdjust="spacingAndGlyphs" style="text-anchor:start">mA</text>
<path d="M848.6 513.7L901.7 513.7"/>
<path d="M848.6 540L901.7 540"/>
<path d="M868.8 513.7L868.8 540"/>
<path d="M875.6 513.7L875.6 540"/>
<path d="M901.1 513.7L901.1 540"/>
<circle cx="888.35" cy="526.85" r="12.15"/>
<path d="M886.25 513.7V524.75H875.6 M890.45 513.7V524.75H901.1 M886.25 540V528.95H875.6 M890.45 540V528.95H901.1" style="stroke-width:1.08"/>
<text class="s" x="859.2" y="532.61" font-size="16" textLength="15.48" lengthAdjust="spacingAndGlyphs">16</text>
<path d="M848.6 545.3L901.7 545.3"/>
<path d="M848.6 571.6L901.7 571.6"/>
<path d="M868.8 545.3L868.8 571.6"/>
<path d="M875.6 545.3L875.6 571.6"/>
<path d="M901.1 545.3L901.1 571.6"/>
<circle cx="888.35" cy="558.45" r="12.15"/>
<path d="M886.25 545.3V556.35H875.6 M890.45 545.3V556.35H901.1 M886.25 571.6V560.55H875.6 M890.45 571.6V560.55H901.1" style="stroke-width:1.08"/>
<text class="s" x="859.2" y="564.21" font-size="16" textLength="15.48" lengthAdjust="spacingAndGlyphs">17</text>
<path d="M848.6 577.4L901.7 577.4"/>
<path d="M848.6 603.4L901.7 603.4"/>
<path d="M868.8 577.4L868.8 603.4"/>
<path d="M875.6 577.4L875.6 603.4"/>
<path d="M901.1 577.4L901.1 603.4"/>
<circle cx="888.35" cy="590.4" r="12.15"/>
<path d="M886.25 577.4V588.3H875.6 M890.45 577.4V588.3H901.1 M886.25 603.4V592.5H875.6 M890.45 603.4V592.5H901.1" style="stroke-width:1.08"/>
<text class="s" x="859.2" y="596.16" font-size="16" textLength="15.48" lengthAdjust="spacingAndGlyphs">18</text>
<path d="M901.1 526.4L918 526.4L918 531.9" style="stroke-width:2"/>
<rect x="914.3" y="531.9" width="7.2" height="22.7" style="stroke-width:1.9"/>
<path d="M918 554.6L918 590.5L901.1 590.5" style="stroke-width:2"/>
<path d="M901.1 558.4L908.7 558.4L908.7 573.6L918 573.6" style="stroke-width:2"/>
<text class="s b" x="924.3" y="560.6" font-size="12.5" textLength="21.5" lengthAdjust="spacingAndGlyphs" style="text-anchor:start">RTD</text>
<rect x="748.3" y="621.5" width="203.3" height="105.5" style="stroke-width:2.5"/>
<path d="M748.3 648L951.6 648" style="stroke-width:1.3"/>
<text class="r" x="851.23" y="641.53" font-size="18.2" style="font-weight:300" textLength="74.67" lengthAdjust="spacing">流量输入</text>
<path d="M814.5 658.6L867.6 658.6"/>
<path d="M814.5 685.1L867.6 685.1"/>
<path d="M834.7 658.6L834.7 685.1"/>
<path d="M841.5 658.6L841.5 685.1"/>
<path d="M867 658.6L867 685.1"/>
<circle cx="854.25" cy="671.85" r="12.15"/>
<path d="M852.15 658.6V669.75H841.5 M856.35 658.6V669.75H867 M852.15 685.1V673.95H841.5 M856.35 685.1V673.95H867" style="stroke-width:1.08"/>
<text class="s" x="825.1" y="677.61" font-size="16" textLength="15.48" lengthAdjust="spacingAndGlyphs">19</text>
<path d="M814.5 690.4L867.6 690.4"/>
<path d="M814.5 716.9L867.6 716.9"/>
<path d="M834.7 690.4L834.7 716.9"/>
<path d="M841.5 690.4L841.5 716.9"/>
<path d="M867 690.4L867 716.9"/>
<circle cx="854.25" cy="703.65" r="12.15"/>
<path d="M852.15 690.4V701.55H841.5 M856.35 690.4V701.55H867 M852.15 716.9V705.75H841.5 M856.35 716.9V705.75H867" style="stroke-width:1.08"/>
<text class="s" x="825.1" y="709.41" font-size="16" textLength="15.48" lengthAdjust="spacingAndGlyphs">20</text>
<path d="M867 671.5L893 671.5" style="stroke-width:1.8"/>
<circle cx="893.3" cy="671.5" r="3.8" style="fill:#231815;stroke:none"/>
<path d="M867 703L893 703" style="stroke-width:1.8"/>
<circle cx="893.3" cy="703" r="3.8" style="fill:#231815;stroke:none"/>
<path d="M870.7 663.1L879.5 663.1" style="stroke-width:1.4"/>
<path d="M875.1 658.7L875.1 667.5" style="stroke-width:1.4"/>
<path d="M870.7 710.6L879.5 710.6" style="stroke-width:1.4"/>
<text class="s b" x="890.8" y="693.6" font-size="12.5" textLength="14.6" lengthAdjust="spacingAndGlyphs" style="text-anchor:start">mA</text>
<rect x="337" y="374" width="320.2" height="333.6" style="stroke-width:2.1"/>
<path d="M337.4 377.5L382.55 377.5" style="stroke-width:1.1"/>
<path d="M337.4 400.3L382.55 400.3" style="stroke-width:1.1"/>
<path d="M353.5 377.5L353.5 400.3" style="stroke-width:1.1"/>
<path d="M360 377.5L360 400.3" style="stroke-width:1.1"/>
<path d="M382 377.5L382 400.3" style="stroke-width:1.1"/>
<circle cx="371" cy="388.9" r="10.7" style="stroke-width:1.1"/>
<path d="M369.2 377.5V387.1H360 M372.8 377.5V387.1H382 M369.2 400.3V390.7H360 M372.8 400.3V390.7H382" style="stroke-width:0.99"/>
<text class="s" x="344.2" y="394.66" font-size="16" textLength="7.2" lengthAdjust="spacingAndGlyphs">1</text>
<path d="M562.4 377.5L656.6 377.5" style="stroke-width:1.1"/>
<path d="M562.4 400.3L656.6 400.3" style="stroke-width:1.1"/>
<path d="M579.7 377.5L579.7 400.3" style="stroke-width:1.1"/>
<path d="M585.5 377.5L585.5 400.3" style="stroke-width:1.1"/>
<path d="M608.8 377.5L608.8 400.3" style="stroke-width:1.1"/>
<path d="M611.3 377.5L611.3 400.3" style="stroke-width:1.1"/>
<path d="M634.2 377.5L634.2 400.3" style="stroke-width:1.1"/>
<path d="M640.5 377.5L640.5 400.3" style="stroke-width:1.1"/>
<circle cx="597.15" cy="388.9" r="10.7" style="stroke-width:1.1"/>
<path d="M595.35 377.5V387.1H585.5 M598.95 377.5V387.1H608.8 M595.35 400.3V390.7H585.5 M598.95 400.3V390.7H608.8" style="stroke-width:0.99"/>
<circle cx="622.75" cy="388.9" r="10.7" style="stroke-width:1.1"/>
<path d="M620.95 377.5V387.1H611.3 M624.55 377.5V387.1H634.2 M620.95 400.3V390.7H611.3 M624.55 400.3V390.7H634.2" style="stroke-width:0.99"/>
<text class="s" x="570.9" y="393.4" font-size="12.5" textLength="13.5" lengthAdjust="spacingAndGlyphs">25</text>
<text class="s" x="649.6" y="393.4" font-size="12.5" textLength="12.5" lengthAdjust="spacingAndGlyphs">13</text>
<path d="M337.4 405.18L382.55 405.18" style="stroke-width:1.1"/>
<path d="M337.4 427.98L382.55 427.98" style="stroke-width:1.1"/>
<path d="M353.5 405.18L353.5 427.98" style="stroke-width:1.1"/>
<path d="M360 405.18L360 427.98" style="stroke-width:1.1"/>
<path d="M382 405.18L382 427.98" style="stroke-width:1.1"/>
<circle cx="371" cy="416.58" r="10.7" style="stroke-width:1.1"/>
<path d="M369.2 405.18V414.78H360 M372.8 405.18V414.78H382 M369.2 427.98V418.38H360 M372.8 427.98V418.38H382" style="stroke-width:0.99"/>
<text class="s" x="344.2" y="422.34" font-size="16" textLength="7.2" lengthAdjust="spacingAndGlyphs">2</text>
<path d="M562.4 405.18L656.6 405.18" style="stroke-width:1.1"/>
<path d="M562.4 427.98L656.6 427.98" style="stroke-width:1.1"/>
<path d="M579.7 405.18L579.7 427.98" style="stroke-width:1.1"/>
<path d="M585.5 405.18L585.5 427.98" style="stroke-width:1.1"/>
<path d="M608.8 405.18L608.8 427.98" style="stroke-width:1.1"/>
<path d="M611.3 405.18L611.3 427.98" style="stroke-width:1.1"/>
<path d="M634.2 405.18L634.2 427.98" style="stroke-width:1.1"/>
<path d="M640.5 405.18L640.5 427.98" style="stroke-width:1.1"/>
<circle cx="597.15" cy="416.58" r="10.7" style="stroke-width:1.1"/>
<path d="M595.35 405.18V414.78H585.5 M598.95 405.18V414.78H608.8 M595.35 427.98V418.38H585.5 M598.95 427.98V418.38H608.8" style="stroke-width:0.99"/>
<circle cx="622.75" cy="416.58" r="10.7" style="stroke-width:1.1"/>
<path d="M620.95 405.18V414.78H611.3 M624.55 405.18V414.78H634.2 M620.95 427.98V418.38H611.3 M624.55 427.98V418.38H634.2" style="stroke-width:0.99"/>
<text class="s" x="570.9" y="421.08" font-size="12.5" textLength="13.5" lengthAdjust="spacingAndGlyphs">26</text>
<text class="s" x="649.6" y="421.08" font-size="12.5" textLength="12.5" lengthAdjust="spacingAndGlyphs">14</text>
<path d="M337.4 432.86L382.55 432.86" style="stroke-width:1.1"/>
<path d="M337.4 455.66L382.55 455.66" style="stroke-width:1.1"/>
<path d="M353.5 432.86L353.5 455.66" style="stroke-width:1.1"/>
<path d="M360 432.86L360 455.66" style="stroke-width:1.1"/>
<path d="M382 432.86L382 455.66" style="stroke-width:1.1"/>
<circle cx="371" cy="444.26" r="10.7" style="stroke-width:1.1"/>
<path d="M369.2 432.86V442.46H360 M372.8 432.86V442.46H382 M369.2 455.66V446.06H360 M372.8 455.66V446.06H382" style="stroke-width:0.99"/>
<text class="s" x="344.2" y="450.02" font-size="16" textLength="7.2" lengthAdjust="spacingAndGlyphs">3</text>
<path d="M562.4 432.86L656.6 432.86" style="stroke-width:1.1"/>
<path d="M562.4 455.66L656.6 455.66" style="stroke-width:1.1"/>
<path d="M579.7 432.86L579.7 455.66" style="stroke-width:1.1"/>
<path d="M585.5 432.86L585.5 455.66" style="stroke-width:1.1"/>
<path d="M608.8 432.86L608.8 455.66" style="stroke-width:1.1"/>
<path d="M611.3 432.86L611.3 455.66" style="stroke-width:1.1"/>
<path d="M634.2 432.86L634.2 455.66" style="stroke-width:1.1"/>
<path d="M640.5 432.86L640.5 455.66" style="stroke-width:1.1"/>
<circle cx="597.15" cy="444.26" r="10.7" style="stroke-width:1.1"/>
<path d="M595.35 432.86V442.46H585.5 M598.95 432.86V442.46H608.8 M595.35 455.66V446.06H585.5 M598.95 455.66V446.06H608.8" style="stroke-width:0.99"/>
<circle cx="622.75" cy="444.26" r="10.7" style="stroke-width:1.1"/>
<path d="M620.95 432.86V442.46H611.3 M624.55 432.86V442.46H634.2 M620.95 455.66V446.06H611.3 M624.55 455.66V446.06H634.2" style="stroke-width:0.99"/>
<text class="s" x="570.9" y="448.76" font-size="12.5" textLength="13.5" lengthAdjust="spacingAndGlyphs">27</text>
<text class="s" x="649.6" y="448.76" font-size="12.5" textLength="12.5" lengthAdjust="spacingAndGlyphs">15</text>
<path d="M337.4 460.54L382.55 460.54" style="stroke-width:1.1"/>
<path d="M337.4 483.34L382.55 483.34" style="stroke-width:1.1"/>
<path d="M353.5 460.54L353.5 483.34" style="stroke-width:1.1"/>
<path d="M360 460.54L360 483.34" style="stroke-width:1.1"/>
<path d="M382 460.54L382 483.34" style="stroke-width:1.1"/>
<circle cx="371" cy="471.94" r="10.7" style="stroke-width:1.1"/>
<path d="M369.2 460.54V470.14H360 M372.8 460.54V470.14H382 M369.2 483.34V473.74H360 M372.8 483.34V473.74H382" style="stroke-width:0.99"/>
<text class="s" x="344.2" y="477.7" font-size="16" textLength="7.2" lengthAdjust="spacingAndGlyphs">4</text>
<path d="M562.4 460.54L656.6 460.54" style="stroke-width:1.1"/>
<path d="M562.4 483.34L656.6 483.34" style="stroke-width:1.1"/>
<path d="M579.7 460.54L579.7 483.34" style="stroke-width:1.1"/>
<path d="M585.5 460.54L585.5 483.34" style="stroke-width:1.1"/>
<path d="M608.8 460.54L608.8 483.34" style="stroke-width:1.1"/>
<path d="M611.3 460.54L611.3 483.34" style="stroke-width:1.1"/>
<path d="M634.2 460.54L634.2 483.34" style="stroke-width:1.1"/>
<path d="M640.5 460.54L640.5 483.34" style="stroke-width:1.1"/>
<circle cx="597.15" cy="471.94" r="10.7" style="stroke-width:1.1"/>
<path d="M595.35 460.54V470.14H585.5 M598.95 460.54V470.14H608.8 M595.35 483.34V473.74H585.5 M598.95 483.34V473.74H608.8" style="stroke-width:0.99"/>
<circle cx="622.75" cy="471.94" r="10.7" style="stroke-width:1.1"/>
<path d="M620.95 460.54V470.14H611.3 M624.55 460.54V470.14H634.2 M620.95 483.34V473.74H611.3 M624.55 483.34V473.74H634.2" style="stroke-width:0.99"/>
<text class="s" x="570.9" y="476.44" font-size="12.5" textLength="13.5" lengthAdjust="spacingAndGlyphs">28</text>
<text class="s" x="649.6" y="476.44" font-size="12.5" textLength="12.5" lengthAdjust="spacingAndGlyphs">16</text>
<path d="M337.4 488.22L382.55 488.22" style="stroke-width:1.1"/>
<path d="M337.4 511.02L382.55 511.02" style="stroke-width:1.1"/>
<path d="M353.5 488.22L353.5 511.02" style="stroke-width:1.1"/>
<path d="M360 488.22L360 511.02" style="stroke-width:1.1"/>
<path d="M382 488.22L382 511.02" style="stroke-width:1.1"/>
<circle cx="371" cy="499.62" r="10.7" style="stroke-width:1.1"/>
<path d="M369.2 488.22V497.82H360 M372.8 488.22V497.82H382 M369.2 511.02V501.42H360 M372.8 511.02V501.42H382" style="stroke-width:0.99"/>
<text class="s" x="344.2" y="505.38" font-size="16" textLength="7.2" lengthAdjust="spacingAndGlyphs">5</text>
<path d="M562.4 488.22L656.6 488.22" style="stroke-width:1.1"/>
<path d="M562.4 511.02L656.6 511.02" style="stroke-width:1.1"/>
<path d="M579.7 488.22L579.7 511.02" style="stroke-width:1.1"/>
<path d="M585.5 488.22L585.5 511.02" style="stroke-width:1.1"/>
<path d="M608.8 488.22L608.8 511.02" style="stroke-width:1.1"/>
<path d="M611.3 488.22L611.3 511.02" style="stroke-width:1.1"/>
<path d="M634.2 488.22L634.2 511.02" style="stroke-width:1.1"/>
<path d="M640.5 488.22L640.5 511.02" style="stroke-width:1.1"/>
<circle cx="597.15" cy="499.62" r="10.7" style="stroke-width:1.1"/>
<path d="M595.35 488.22V497.82H585.5 M598.95 488.22V497.82H608.8 M595.35 511.02V501.42H585.5 M598.95 511.02V501.42H608.8" style="stroke-width:0.99"/>
<circle cx="622.75" cy="499.62" r="10.7" style="stroke-width:1.1"/>
<path d="M620.95 488.22V497.82H611.3 M624.55 488.22V497.82H634.2 M620.95 511.02V501.42H611.3 M624.55 511.02V501.42H634.2" style="stroke-width:0.99"/>
<text class="s" x="570.9" y="504.12" font-size="12.5" textLength="13.5" lengthAdjust="spacingAndGlyphs">29</text>
<text class="s" x="649.6" y="504.12" font-size="12.5" textLength="12.5" lengthAdjust="spacingAndGlyphs">17</text>
<path d="M337.4 515.9L382.55 515.9" style="stroke-width:1.1"/>
<path d="M337.4 538.7L382.55 538.7" style="stroke-width:1.1"/>
<path d="M353.5 515.9L353.5 538.7" style="stroke-width:1.1"/>
<path d="M360 515.9L360 538.7" style="stroke-width:1.1"/>
<path d="M382 515.9L382 538.7" style="stroke-width:1.1"/>
<circle cx="371" cy="527.3" r="10.7" style="stroke-width:1.1"/>
<path d="M369.2 515.9V525.5H360 M372.8 515.9V525.5H382 M369.2 538.7V529.1H360 M372.8 538.7V529.1H382" style="stroke-width:0.99"/>
<text class="s" x="344.2" y="533.06" font-size="16" textLength="7.2" lengthAdjust="spacingAndGlyphs">6</text>
<path d="M562.4 515.9L656.6 515.9" style="stroke-width:1.1"/>
<path d="M562.4 538.7L656.6 538.7" style="stroke-width:1.1"/>
<path d="M579.7 515.9L579.7 538.7" style="stroke-width:1.1"/>
<path d="M585.5 515.9L585.5 538.7" style="stroke-width:1.1"/>
<path d="M608.8 515.9L608.8 538.7" style="stroke-width:1.1"/>
<path d="M611.3 515.9L611.3 538.7" style="stroke-width:1.1"/>
<path d="M634.2 515.9L634.2 538.7" style="stroke-width:1.1"/>
<path d="M640.5 515.9L640.5 538.7" style="stroke-width:1.1"/>
<circle cx="597.15" cy="527.3" r="10.7" style="stroke-width:1.1"/>
<path d="M595.35 515.9V525.5H585.5 M598.95 515.9V525.5H608.8 M595.35 538.7V529.1H585.5 M598.95 538.7V529.1H608.8" style="stroke-width:0.99"/>
<circle cx="622.75" cy="527.3" r="10.7" style="stroke-width:1.1"/>
<path d="M620.95 515.9V525.5H611.3 M624.55 515.9V525.5H634.2 M620.95 538.7V529.1H611.3 M624.55 538.7V529.1H634.2" style="stroke-width:0.99"/>
<text class="s" x="570.9" y="531.8" font-size="12.5" textLength="13.5" lengthAdjust="spacingAndGlyphs">30</text>
<text class="s" x="649.6" y="531.8" font-size="12.5" textLength="12.5" lengthAdjust="spacingAndGlyphs">18</text>
<path d="M337.4 543.58L382.55 543.58" style="stroke-width:1.1"/>
<path d="M337.4 566.38L382.55 566.38" style="stroke-width:1.1"/>
<path d="M353.5 543.58L353.5 566.38" style="stroke-width:1.1"/>
<path d="M360 543.58L360 566.38" style="stroke-width:1.1"/>
<path d="M382 543.58L382 566.38" style="stroke-width:1.1"/>
<circle cx="371" cy="554.98" r="10.7" style="stroke-width:1.1"/>
<path d="M369.2 543.58V553.18H360 M372.8 543.58V553.18H382 M369.2 566.38V556.78H360 M372.8 566.38V556.78H382" style="stroke-width:0.99"/>
<text class="s" x="344.2" y="560.74" font-size="16" textLength="7.2" lengthAdjust="spacingAndGlyphs">7</text>
<path d="M562.4 543.58L656.6 543.58" style="stroke-width:1.1"/>
<path d="M562.4 566.38L656.6 566.38" style="stroke-width:1.1"/>
<path d="M579.7 543.58L579.7 566.38" style="stroke-width:1.1"/>
<path d="M585.5 543.58L585.5 566.38" style="stroke-width:1.1"/>
<path d="M608.8 543.58L608.8 566.38" style="stroke-width:1.1"/>
<path d="M611.3 543.58L611.3 566.38" style="stroke-width:1.1"/>
<path d="M634.2 543.58L634.2 566.38" style="stroke-width:1.1"/>
<path d="M640.5 543.58L640.5 566.38" style="stroke-width:1.1"/>
<circle cx="597.15" cy="554.98" r="10.7" style="stroke-width:1.1"/>
<path d="M595.35 543.58V553.18H585.5 M598.95 543.58V553.18H608.8 M595.35 566.38V556.78H585.5 M598.95 566.38V556.78H608.8" style="stroke-width:0.99"/>
<circle cx="622.75" cy="554.98" r="10.7" style="stroke-width:1.1"/>
<path d="M620.95 543.58V553.18H611.3 M624.55 543.58V553.18H634.2 M620.95 566.38V556.78H611.3 M624.55 566.38V556.78H634.2" style="stroke-width:0.99"/>
<text class="s" x="570.9" y="559.48" font-size="12.5" textLength="13.5" lengthAdjust="spacingAndGlyphs">31</text>
<text class="s" x="649.6" y="559.48" font-size="12.5" textLength="12.5" lengthAdjust="spacingAndGlyphs">19</text>
<path d="M337.4 571.26L382.55 571.26" style="stroke-width:1.1"/>
<path d="M337.4 594.06L382.55 594.06" style="stroke-width:1.1"/>
<path d="M353.5 571.26L353.5 594.06" style="stroke-width:1.1"/>
<path d="M360 571.26L360 594.06" style="stroke-width:1.1"/>
<path d="M382 571.26L382 594.06" style="stroke-width:1.1"/>
<circle cx="371" cy="582.66" r="10.7" style="stroke-width:1.1"/>
<path d="M369.2 571.26V580.86H360 M372.8 571.26V580.86H382 M369.2 594.06V584.46H360 M372.8 594.06V584.46H382" style="stroke-width:0.99"/>
<text class="s" x="344.2" y="588.42" font-size="16" textLength="7.2" lengthAdjust="spacingAndGlyphs">8</text>
<path d="M562.4 571.26L656.6 571.26" style="stroke-width:1.1"/>
<path d="M562.4 594.06L656.6 594.06" style="stroke-width:1.1"/>
<path d="M579.7 571.26L579.7 594.06" style="stroke-width:1.1"/>
<path d="M585.5 571.26L585.5 594.06" style="stroke-width:1.1"/>
<path d="M608.8 571.26L608.8 594.06" style="stroke-width:1.1"/>
<path d="M611.3 571.26L611.3 594.06" style="stroke-width:1.1"/>
<path d="M634.2 571.26L634.2 594.06" style="stroke-width:1.1"/>
<path d="M640.5 571.26L640.5 594.06" style="stroke-width:1.1"/>
<circle cx="597.15" cy="582.66" r="10.7" style="stroke-width:1.1"/>
<path d="M595.35 571.26V580.86H585.5 M598.95 571.26V580.86H608.8 M595.35 594.06V584.46H585.5 M598.95 594.06V584.46H608.8" style="stroke-width:0.99"/>
<circle cx="622.75" cy="582.66" r="10.7" style="stroke-width:1.1"/>
<path d="M620.95 571.26V580.86H611.3 M624.55 571.26V580.86H634.2 M620.95 594.06V584.46H611.3 M624.55 594.06V584.46H634.2" style="stroke-width:0.99"/>
<text class="s" x="570.9" y="587.16" font-size="12.5" textLength="13.5" lengthAdjust="spacingAndGlyphs">32</text>
<text class="s" x="649.6" y="587.16" font-size="12.5" textLength="12.5" lengthAdjust="spacingAndGlyphs">20</text>
<path d="M337.4 598.94L382.55 598.94" style="stroke-width:1.1"/>
<path d="M337.4 621.74L382.55 621.74" style="stroke-width:1.1"/>
<path d="M353.5 598.94L353.5 621.74" style="stroke-width:1.1"/>
<path d="M360 598.94L360 621.74" style="stroke-width:1.1"/>
<path d="M382 598.94L382 621.74" style="stroke-width:1.1"/>
<circle cx="371" cy="610.34" r="10.7" style="stroke-width:1.1"/>
<path d="M369.2 598.94V608.54H360 M372.8 598.94V608.54H382 M369.2 621.74V612.14H360 M372.8 621.74V612.14H382" style="stroke-width:0.99"/>
<text class="s" x="344.2" y="616.1" font-size="16" textLength="7.2" lengthAdjust="spacingAndGlyphs">9</text>
<path d="M562.4 598.94L656.6 598.94" style="stroke-width:1.1"/>
<path d="M562.4 621.74L656.6 621.74" style="stroke-width:1.1"/>
<path d="M579.7 598.94L579.7 621.74" style="stroke-width:1.1"/>
<path d="M585.5 598.94L585.5 621.74" style="stroke-width:1.1"/>
<path d="M608.8 598.94L608.8 621.74" style="stroke-width:1.1"/>
<path d="M611.3 598.94L611.3 621.74" style="stroke-width:1.1"/>
<path d="M634.2 598.94L634.2 621.74" style="stroke-width:1.1"/>
<path d="M640.5 598.94L640.5 621.74" style="stroke-width:1.1"/>
<circle cx="597.15" cy="610.34" r="10.7" style="stroke-width:1.1"/>
<path d="M595.35 598.94V608.54H585.5 M598.95 598.94V608.54H608.8 M595.35 621.74V612.14H585.5 M598.95 621.74V612.14H608.8" style="stroke-width:0.99"/>
<circle cx="622.75" cy="610.34" r="10.7" style="stroke-width:1.1"/>
<path d="M620.95 598.94V608.54H611.3 M624.55 598.94V608.54H634.2 M620.95 621.74V612.14H611.3 M624.55 621.74V612.14H634.2" style="stroke-width:0.99"/>
<text class="s" x="570.9" y="614.84" font-size="12.5" textLength="13.5" lengthAdjust="spacingAndGlyphs">33</text>
<text class="s" x="649.6" y="614.84" font-size="12.5" textLength="12.5" lengthAdjust="spacingAndGlyphs">21</text>
<path d="M337.4 626.62L382.55 626.62" style="stroke-width:1.1"/>
<path d="M337.4 649.42L382.55 649.42" style="stroke-width:1.1"/>
<path d="M353.5 626.62L353.5 649.42" style="stroke-width:1.1"/>
<path d="M360 626.62L360 649.42" style="stroke-width:1.1"/>
<path d="M382 626.62L382 649.42" style="stroke-width:1.1"/>
<circle cx="371" cy="638.02" r="10.7" style="stroke-width:1.1"/>
<path d="M369.2 626.62V636.22H360 M372.8 626.62V636.22H382 M369.2 649.42V639.82H360 M372.8 649.42V639.82H382" style="stroke-width:0.99"/>
<text class="s" x="345.3" y="643.78" font-size="16" textLength="14.5" lengthAdjust="spacingAndGlyphs">10</text>
<path d="M562.4 626.62L656.6 626.62" style="stroke-width:1.1"/>
<path d="M562.4 649.42L656.6 649.42" style="stroke-width:1.1"/>
<path d="M579.7 626.62L579.7 649.42" style="stroke-width:1.1"/>
<path d="M585.5 626.62L585.5 649.42" style="stroke-width:1.1"/>
<path d="M608.8 626.62L608.8 649.42" style="stroke-width:1.1"/>
<path d="M611.3 626.62L611.3 649.42" style="stroke-width:1.1"/>
<path d="M634.2 626.62L634.2 649.42" style="stroke-width:1.1"/>
<path d="M640.5 626.62L640.5 649.42" style="stroke-width:1.1"/>
<circle cx="597.15" cy="638.02" r="10.7" style="stroke-width:1.1"/>
<path d="M595.35 626.62V636.22H585.5 M598.95 626.62V636.22H608.8 M595.35 649.42V639.82H585.5 M598.95 649.42V639.82H608.8" style="stroke-width:0.99"/>
<circle cx="622.75" cy="638.02" r="10.7" style="stroke-width:1.1"/>
<path d="M620.95 626.62V636.22H611.3 M624.55 626.62V636.22H634.2 M620.95 649.42V639.82H611.3 M624.55 649.42V639.82H634.2" style="stroke-width:0.99"/>
<text class="s" x="570.9" y="642.52" font-size="12.5" textLength="13.5" lengthAdjust="spacingAndGlyphs">34</text>
<text class="s" x="649.6" y="642.52" font-size="12.5" textLength="12.5" lengthAdjust="spacingAndGlyphs">22</text>
<path d="M337.4 654.3L382.55 654.3" style="stroke-width:1.1"/>
<path d="M337.4 677.1L382.55 677.1" style="stroke-width:1.1"/>
<path d="M353.5 654.3L353.5 677.1" style="stroke-width:1.1"/>
<path d="M360 654.3L360 677.1" style="stroke-width:1.1"/>
<path d="M382 654.3L382 677.1" style="stroke-width:1.1"/>
<circle cx="371" cy="665.7" r="10.7" style="stroke-width:1.1"/>
<path d="M369.2 654.3V663.9H360 M372.8 654.3V663.9H382 M369.2 677.1V667.5H360 M372.8 677.1V667.5H382" style="stroke-width:0.99"/>
<text class="s" x="345.3" y="671.46" font-size="16" textLength="14.5" lengthAdjust="spacingAndGlyphs">11</text>
<path d="M562.4 654.3L656.6 654.3" style="stroke-width:1.1"/>
<path d="M562.4 677.1L656.6 677.1" style="stroke-width:1.1"/>
<path d="M579.7 654.3L579.7 677.1" style="stroke-width:1.1"/>
<path d="M585.5 654.3L585.5 677.1" style="stroke-width:1.1"/>
<path d="M608.8 654.3L608.8 677.1" style="stroke-width:1.1"/>
<path d="M611.3 654.3L611.3 677.1" style="stroke-width:1.1"/>
<path d="M634.2 654.3L634.2 677.1" style="stroke-width:1.1"/>
<path d="M640.5 654.3L640.5 677.1" style="stroke-width:1.1"/>
<circle cx="597.15" cy="665.7" r="10.7" style="stroke-width:1.1"/>
<path d="M595.35 654.3V663.9H585.5 M598.95 654.3V663.9H608.8 M595.35 677.1V667.5H585.5 M598.95 677.1V667.5H608.8" style="stroke-width:0.99"/>
<circle cx="622.75" cy="665.7" r="10.7" style="stroke-width:1.1"/>
<path d="M620.95 654.3V663.9H611.3 M624.55 654.3V663.9H634.2 M620.95 677.1V667.5H611.3 M624.55 677.1V667.5H634.2" style="stroke-width:0.99"/>
<text class="s" x="570.9" y="670.2" font-size="12.5" textLength="13.5" lengthAdjust="spacingAndGlyphs">35</text>
<text class="s" x="649.6" y="670.2" font-size="12.5" textLength="12.5" lengthAdjust="spacingAndGlyphs">23</text>
<path d="M337.4 681.98L382.55 681.98" style="stroke-width:1.1"/>
<path d="M337.4 704.78L382.55 704.78" style="stroke-width:1.1"/>
<path d="M353.5 681.98L353.5 704.78" style="stroke-width:1.1"/>
<path d="M360 681.98L360 704.78" style="stroke-width:1.1"/>
<path d="M382 681.98L382 704.78" style="stroke-width:1.1"/>
<circle cx="371" cy="693.38" r="10.7" style="stroke-width:1.1"/>
<path d="M369.2 681.98V691.58H360 M372.8 681.98V691.58H382 M369.2 704.78V695.18H360 M372.8 704.78V695.18H382" style="stroke-width:0.99"/>
<text class="s" x="345.3" y="699.14" font-size="16" textLength="14.5" lengthAdjust="spacingAndGlyphs">12</text>
<path d="M562.4 681.98L656.6 681.98" style="stroke-width:1.1"/>
<path d="M562.4 704.78L656.6 704.78" style="stroke-width:1.1"/>
<path d="M579.7 681.98L579.7 704.78" style="stroke-width:1.1"/>
<path d="M585.5 681.98L585.5 704.78" style="stroke-width:1.1"/>
<path d="M608.8 681.98L608.8 704.78" style="stroke-width:1.1"/>
<path d="M611.3 681.98L611.3 704.78" style="stroke-width:1.1"/>
<path d="M634.2 681.98L634.2 704.78" style="stroke-width:1.1"/>
<path d="M640.5 681.98L640.5 704.78" style="stroke-width:1.1"/>
<circle cx="597.15" cy="693.38" r="10.7" style="stroke-width:1.1"/>
<path d="M595.35 681.98V691.58H585.5 M598.95 681.98V691.58H608.8 M595.35 704.78V695.18H585.5 M598.95 704.78V695.18H608.8" style="stroke-width:0.99"/>
<circle cx="622.75" cy="693.38" r="10.7" style="stroke-width:1.1"/>
<path d="M620.95 681.98V691.58H611.3 M624.55 681.98V691.58H634.2 M620.95 704.78V695.18H611.3 M624.55 704.78V695.18H634.2" style="stroke-width:0.99"/>
<text class="s" x="570.9" y="697.88" font-size="12.5" textLength="13.5" lengthAdjust="spacingAndGlyphs">36</text>
<text class="s" x="649.6" y="697.88" font-size="12.5" textLength="12.5" lengthAdjust="spacingAndGlyphs">24</text>
<path d="M331.2 383.2 Q328.4 383.2 328.4 388.8 V448.5 Q328.4 459 325.6 460.5 Q328.4 462 328.4 472.5 V528.6 Q328.4 534.2 331.2 534.2" style="stroke-width:2.3"/>
<path d="M331.2 550.6 Q328.4 550.6 328.4 556.2 V586.1 Q328.4 596.6 325.6 598.1 Q328.4 599.6 328.4 610.1 V639.2 Q328.4 644.8 331.2 644.8" style="stroke-width:2.3"/>
<path d="M331.2 654.4 Q328.4 654.4 328.4 660 V668.2 Q328.4 678.7 325.6 680.2 Q328.4 681.7 328.4 692.2 V701.1 Q328.4 706.7 331.2 706.7" style="stroke-width:2.3"/>
<path d="M326 460.5L302.3 460.5L302.3 415.6L272 415.6" style="stroke-width:2.3"/>
<polygon points="260.1,415.6 274.1,407 274.1,424.2" style="fill:#231815;stroke:none"/>
<path d="M326 598.1L303.5 598.1L303.5 553.1L272 553.1" style="stroke-width:2.3"/>
<polygon points="260.1,553.1 274.1,544.5 274.1,561.7" style="fill:#231815;stroke:none"/>
<path d="M326 680.2L272 680.2" style="stroke-width:2.3"/>
<polygon points="260.1,680.2 274.6,671.6 274.6,688.8" style="fill:#231815;stroke:none"/>
<path d="M661.6 385.3 Q664.4 385.3 664.4 390.9 V394.2 Q664.4 401.4 667.2 402.9 Q664.4 404.4 664.4 411.6 V414.5 Q664.4 420.1 661.6 420.1" style="stroke-width:1.9"/>
<path d="M661.6 437.5 Q664.4 437.5 664.4 443.1 V470.5 Q664.4 481 667.2 482.5 Q664.4 484 664.4 494.5 V521.1 Q664.4 526.7 661.6 526.7" style="stroke-width:1.9"/>
<path d="M661.6 553.9 Q664.4 553.9 664.4 559.5 V562.4 Q664.4 569.3 667.2 570.8 Q664.4 572.3 664.4 579.2 V581.9 Q664.4 587.5 661.6 587.5" style="stroke-width:1.9"/>
<path d="M661.6 606.9 Q664.4 606.9 664.4 612.5 V641.1 Q664.4 651.6 667.2 653.1 Q664.4 654.6 664.4 665.1 V694.2 Q664.4 699.8 661.6 699.8" style="stroke-width:1.9"/>
<path d="M666.5 402.9L736 402.9" style="stroke-width:2.3"/>
<polygon points="747.8,402.9 734.3,394.3 734.3,411.5" style="fill:#231815;stroke:none"/>
<path d="M666.5 482.5L713.4 482.5L713.4 557.7L736 557.7" style="stroke-width:2.3"/>
<polygon points="747.8,557.7 733.8,549.1 733.8,566.3" style="fill:#231815;stroke:none"/>
<path d="M666.5 570.8L701.3 570.8L701.3 677.6L736 677.6" style="stroke-width:2.3"/>
<polygon points="747.8,677.6 733.8,669 733.8,686.2" style="fill:#231815;stroke:none"/>
<path d="M666.5 653.1L685.5 653.1L685.5 749" style="stroke-width:2.3"/>
<polygon points="685.5,760.8 676.9,746.8 694.1,746.8" style="fill:#231815;stroke:none"/>
<path d="M554 381.5 Q551.8 381.5 551.8 385.9 V472.3 Q551.8 482.8 549.6 484.3 Q551.8 485.8 551.8 496.3 V611.4 Q551.8 615.8 554 615.8" style="stroke-width:1.7"/>
<path d="M554 632.2 Q551.8 632.2 551.8 636.6 V651.7 Q551.8 662.2 549.6 663.7 Q551.8 665.2 551.8 675.7 V690.9 Q551.8 695.3 554 695.3" style="stroke-width:1.7"/>
<path d="M437.5 326L437.5 484.3L550.5 484.3" style="stroke-width:2.3"/>
<polygon points="437.5,313.3 428.9,327.8 446.1,327.8" style="fill:#231815;stroke:none"/>
<path d="M495 484.3L495 335.6L620 335.6L620 322" style="stroke-width:2.3"/>
<polygon points="620,309.6 611.4,323.1 628.6,323.1" style="fill:#231815;stroke:none"/>
<path d="M531.3 484.3L531.3 347.6L852.9 347.6L852.9 321" style="stroke-width:2.3"/>
<polygon points="852.9,308.8 844.3,322.3 861.5,322.3" style="fill:#231815;stroke:none"/>
<path d="M550 651.1L453.5 651.1L453.5 749" style="stroke-width:2.3"/>
<polygon points="453.5,760.8 444.9,746.8 462.1,746.8" style="fill:#231815;stroke:none"/>
<text class="s" x="50.5" y="1099.6" font-size="15.5" textLength="56" lengthAdjust="spacingAndGlyphs" style="text-anchor:start">电源端</text>
<text class="s b" x="116.5" y="1100.2" font-size="17.5" textLength="55.5" lengthAdjust="spacingAndGlyphs" style="text-anchor:start">AC220V</text>
<text class="s" x="56.3" y="1127" font-size="17.5" textLength="7.5" lengthAdjust="spacingAndGlyphs" style="fill:#e60012" stroke="#e60012" stroke-width="0.4">L</text>
<text class="s b" x="56.3" y="1166.8" font-size="17.5" textLength="9.5" lengthAdjust="spacingAndGlyphs">N</text>
<path d="M72.5 1121L930 1121" style="stroke:#e60012;stroke-width:2.4"/>
<path d="M72.5 1160.4L930 1160.4" style="stroke-width:2.1"/>
<path d="M131.6 1121L131.6 1533.3L197 1533.3" style="stroke:#e60012;stroke-width:2.6"/>
<path d="M111.5 1160.4L111.5 1561.6L197.5 1561.6" style="stroke-width:2.2"/>
<circle cx="131.4" cy="1121" r="6" style="fill:#e60012;stroke:none"/>
<circle cx="111.2" cy="1160.4" r="6" style="fill:#231815;stroke:none"/>
<rect x="164.5" y="1232.2" width="349.3" height="339" style="stroke-width:1.8"/>
<path d="M165 1235.4L214.65 1235.4" style="stroke-width:1.5"/>
<path d="M165 1258.6L214.65 1258.6" style="stroke-width:1.5"/>
<path d="M182.9 1235.4L182.9 1258.6" style="stroke-width:1.5"/>
<path d="M189.5 1235.4L189.5 1258.6" style="stroke-width:1.5"/>
<path d="M213.9 1235.4L213.9 1258.6" style="stroke-width:1.5"/>
<ellipse cx="201.7" cy="1247" rx="12.2" ry="11.6" style="stroke-width:1.5"/>
<path d="M199.8 1235.4V1245.1H189.5 M203.6 1235.4V1245.1H213.9 M199.8 1258.6V1248.9H189.5 M203.6 1258.6V1248.9H213.9" style="stroke-width:1.35"/>
<text class="s" x="173.8" y="1253.18" font-size="18" textLength="8.71" lengthAdjust="spacingAndGlyphs" style="font-weight:700">1</text>
<path d="M410.3 1235.4L460.3 1235.4" style="stroke-width:1.5"/>
<path d="M410.3 1258.6L460.3 1258.6" style="stroke-width:1.5"/>
<path d="M463.8 1235.4L513 1235.4" style="stroke-width:1.5"/>
<path d="M463.8 1258.6L513 1258.6" style="stroke-width:1.5"/>
<path d="M429.2 1235.4L429.2 1258.6" style="stroke-width:1.5"/>
<path d="M435.6 1235.4L435.6 1258.6" style="stroke-width:1.5"/>
<path d="M460.3 1235.4L460.3 1258.6" style="stroke-width:1.5"/>
<path d="M463.8 1235.4L463.8 1258.6" style="stroke-width:1.5"/>
<path d="M488.6 1235.4L488.6 1258.6" style="stroke-width:1.5"/>
<path d="M494.9 1235.4L494.9 1258.6" style="stroke-width:1.5"/>
<ellipse cx="447.95" cy="1247" rx="12.35" ry="11.6" style="stroke-width:1.5"/>
<path d="M446.05 1235.4V1245.1H435.6 M449.85 1235.4V1245.1H460.3 M446.05 1258.6V1248.9H435.6 M449.85 1258.6V1248.9H460.3" style="stroke-width:1.35"/>
<ellipse cx="476.2" cy="1247" rx="12.4" ry="11.6" style="stroke-width:1.5"/>
<path d="M474.3 1235.4V1245.1H463.8 M478.1 1235.4V1245.1H488.6 M474.3 1258.6V1248.9H463.8 M478.1 1258.6V1248.9H488.6" style="stroke-width:1.35"/>
<text class="s b" x="420.2" y="1252.01" font-size="14.3" textLength="14.4" lengthAdjust="spacingAndGlyphs" style="font-weight:700">25</text>
<text class="s b" x="504.3" y="1252.01" font-size="14.3" textLength="13.5" lengthAdjust="spacingAndGlyphs" style="font-weight:700">13</text>
<path d="M165 1263.55L214.65 1263.55" style="stroke-width:1.5"/>
<path d="M165 1286.75L214.65 1286.75" style="stroke-width:1.5"/>
<path d="M182.9 1263.55L182.9 1286.75" style="stroke-width:1.5"/>
<path d="M189.5 1263.55L189.5 1286.75" style="stroke-width:1.5"/>
<path d="M213.9 1263.55L213.9 1286.75" style="stroke-width:1.5"/>
<ellipse cx="201.7" cy="1275.15" rx="12.2" ry="11.6" style="stroke-width:1.5"/>
<path d="M199.8 1263.55V1273.25H189.5 M203.6 1263.55V1273.25H213.9 M199.8 1286.75V1277.05H189.5 M203.6 1286.75V1277.05H213.9" style="stroke-width:1.35"/>
<text class="s" x="173.8" y="1281.33" font-size="18" textLength="8.71" lengthAdjust="spacingAndGlyphs" style="font-weight:700">2</text>
<path d="M410.3 1263.55L460.3 1263.55" style="stroke-width:1.5"/>
<path d="M410.3 1286.75L460.3 1286.75" style="stroke-width:1.5"/>
<path d="M463.8 1263.55L513 1263.55" style="stroke-width:1.5"/>
<path d="M463.8 1286.75L513 1286.75" style="stroke-width:1.5"/>
<path d="M429.2 1263.55L429.2 1286.75" style="stroke-width:1.5"/>
<path d="M435.6 1263.55L435.6 1286.75" style="stroke-width:1.5"/>
<path d="M460.3 1263.55L460.3 1286.75" style="stroke-width:1.5"/>
<path d="M463.8 1263.55L463.8 1286.75" style="stroke-width:1.5"/>
<path d="M488.6 1263.55L488.6 1286.75" style="stroke-width:1.5"/>
<path d="M494.9 1263.55L494.9 1286.75" style="stroke-width:1.5"/>
<ellipse cx="447.95" cy="1275.15" rx="12.35" ry="11.6" style="stroke-width:1.5"/>
<path d="M446.05 1263.55V1273.25H435.6 M449.85 1263.55V1273.25H460.3 M446.05 1286.75V1277.05H435.6 M449.85 1286.75V1277.05H460.3" style="stroke-width:1.35"/>
<ellipse cx="476.2" cy="1275.15" rx="12.4" ry="11.6" style="stroke-width:1.5"/>
<path d="M474.3 1263.55V1273.25H463.8 M478.1 1263.55V1273.25H488.6 M474.3 1286.75V1277.05H463.8 M478.1 1286.75V1277.05H488.6" style="stroke-width:1.35"/>
<text class="s b" x="420.2" y="1280.16" font-size="14.3" textLength="14.4" lengthAdjust="spacingAndGlyphs" style="font-weight:700">26</text>
<text class="s b" x="504.3" y="1280.16" font-size="14.3" textLength="13.5" lengthAdjust="spacingAndGlyphs" style="font-weight:700">14</text>
<path d="M165 1291.7L214.65 1291.7" style="stroke-width:1.5"/>
<path d="M165 1314.9L214.65 1314.9" style="stroke-width:1.5"/>
<path d="M182.9 1291.7L182.9 1314.9" style="stroke-width:1.5"/>
<path d="M189.5 1291.7L189.5 1314.9" style="stroke-width:1.5"/>
<path d="M213.9 1291.7L213.9 1314.9" style="stroke-width:1.5"/>
<ellipse cx="201.7" cy="1303.3" rx="12.2" ry="11.6" style="stroke-width:1.5"/>
<path d="M199.8 1291.7V1301.4H189.5 M203.6 1291.7V1301.4H213.9 M199.8 1314.9V1305.2H189.5 M203.6 1314.9V1305.2H213.9" style="stroke-width:1.35"/>
<text class="s" x="173.8" y="1309.48" font-size="18" textLength="8.71" lengthAdjust="spacingAndGlyphs" style="font-weight:700">3</text>
<path d="M410.3 1291.7L460.3 1291.7" style="stroke-width:1.5"/>
<path d="M410.3 1314.9L460.3 1314.9" style="stroke-width:1.5"/>
<path d="M463.8 1291.7L513 1291.7" style="stroke-width:1.5"/>
<path d="M463.8 1314.9L513 1314.9" style="stroke-width:1.5"/>
<path d="M429.2 1291.7L429.2 1314.9" style="stroke-width:1.5"/>
<path d="M435.6 1291.7L435.6 1314.9" style="stroke-width:1.5"/>
<path d="M460.3 1291.7L460.3 1314.9" style="stroke-width:1.5"/>
<path d="M463.8 1291.7L463.8 1314.9" style="stroke-width:1.5"/>
<path d="M488.6 1291.7L488.6 1314.9" style="stroke-width:1.5"/>
<path d="M494.9 1291.7L494.9 1314.9" style="stroke-width:1.5"/>
<ellipse cx="447.95" cy="1303.3" rx="12.35" ry="11.6" style="stroke-width:1.5"/>
<path d="M446.05 1291.7V1301.4H435.6 M449.85 1291.7V1301.4H460.3 M446.05 1314.9V1305.2H435.6 M449.85 1314.9V1305.2H460.3" style="stroke-width:1.35"/>
<ellipse cx="476.2" cy="1303.3" rx="12.4" ry="11.6" style="stroke-width:1.5"/>
<path d="M474.3 1291.7V1301.4H463.8 M478.1 1291.7V1301.4H488.6 M474.3 1314.9V1305.2H463.8 M478.1 1314.9V1305.2H488.6" style="stroke-width:1.35"/>
<text class="s b" x="420.2" y="1308.31" font-size="14.3" textLength="14.4" lengthAdjust="spacingAndGlyphs" style="font-weight:700">27</text>
<text class="s b" x="504.3" y="1308.31" font-size="14.3" textLength="13.5" lengthAdjust="spacingAndGlyphs" style="font-weight:700">15</text>
<path d="M165 1319.85L214.65 1319.85" style="stroke-width:1.5"/>
<path d="M165 1343.05L214.65 1343.05" style="stroke-width:1.5"/>
<path d="M182.9 1319.85L182.9 1343.05" style="stroke-width:1.5"/>
<path d="M189.5 1319.85L189.5 1343.05" style="stroke-width:1.5"/>
<path d="M213.9 1319.85L213.9 1343.05" style="stroke-width:1.5"/>
<ellipse cx="201.7" cy="1331.45" rx="12.2" ry="11.6" style="stroke-width:1.5"/>
<path d="M199.8 1319.85V1329.55H189.5 M203.6 1319.85V1329.55H213.9 M199.8 1343.05V1333.35H189.5 M203.6 1343.05V1333.35H213.9" style="stroke-width:1.35"/>
<text class="s" x="173.8" y="1337.63" font-size="18" textLength="8.71" lengthAdjust="spacingAndGlyphs" style="font-weight:700">4</text>
<path d="M410.3 1319.85L460.3 1319.85" style="stroke-width:1.5"/>
<path d="M410.3 1343.05L460.3 1343.05" style="stroke-width:1.5"/>
<path d="M463.8 1319.85L513 1319.85" style="stroke-width:1.5"/>
<path d="M463.8 1343.05L513 1343.05" style="stroke-width:1.5"/>
<path d="M429.2 1319.85L429.2 1343.05" style="stroke-width:1.5"/>
<path d="M435.6 1319.85L435.6 1343.05" style="stroke-width:1.5"/>
<path d="M460.3 1319.85L460.3 1343.05" style="stroke-width:1.5"/>
<path d="M463.8 1319.85L463.8 1343.05" style="stroke-width:1.5"/>
<path d="M488.6 1319.85L488.6 1343.05" style="stroke-width:1.5"/>
<path d="M494.9 1319.85L494.9 1343.05" style="stroke-width:1.5"/>
<ellipse cx="447.95" cy="1331.45" rx="12.35" ry="11.6" style="stroke-width:1.5"/>
<path d="M446.05 1319.85V1329.55H435.6 M449.85 1319.85V1329.55H460.3 M446.05 1343.05V1333.35H435.6 M449.85 1343.05V1333.35H460.3" style="stroke-width:1.35"/>
<ellipse cx="476.2" cy="1331.45" rx="12.4" ry="11.6" style="stroke-width:1.5"/>
<path d="M474.3 1319.85V1329.55H463.8 M478.1 1319.85V1329.55H488.6 M474.3 1343.05V1333.35H463.8 M478.1 1343.05V1333.35H488.6" style="stroke-width:1.35"/>
<text class="s b" x="420.2" y="1336.46" font-size="14.3" textLength="14.4" lengthAdjust="spacingAndGlyphs" style="font-weight:700">28</text>
<text class="s b" x="504.3" y="1336.46" font-size="14.3" textLength="13.5" lengthAdjust="spacingAndGlyphs" style="font-weight:700">16</text>
<path d="M165 1348L214.65 1348" style="stroke-width:1.5"/>
<path d="M165 1371.2L214.65 1371.2" style="stroke-width:1.5"/>
<path d="M182.9 1348L182.9 1371.2" style="stroke-width:1.5"/>
<path d="M189.5 1348L189.5 1371.2" style="stroke-width:1.5"/>
<path d="M213.9 1348L213.9 1371.2" style="stroke-width:1.5"/>
<ellipse cx="201.7" cy="1359.6" rx="12.2" ry="11.6" style="stroke-width:1.5"/>
<path d="M199.8 1348V1357.7H189.5 M203.6 1348V1357.7H213.9 M199.8 1371.2V1361.5H189.5 M203.6 1371.2V1361.5H213.9" style="stroke-width:1.35"/>
<text class="s" x="173.8" y="1365.78" font-size="18" textLength="8.71" lengthAdjust="spacingAndGlyphs" style="font-weight:700">5</text>
<path d="M410.3 1348L460.3 1348" style="stroke-width:1.5"/>
<path d="M410.3 1371.2L460.3 1371.2" style="stroke-width:1.5"/>
<path d="M463.8 1348L513 1348" style="stroke-width:1.5"/>
<path d="M463.8 1371.2L513 1371.2" style="stroke-width:1.5"/>
<path d="M429.2 1348L429.2 1371.2" style="stroke-width:1.5"/>
<path d="M435.6 1348L435.6 1371.2" style="stroke-width:1.5"/>
<path d="M460.3 1348L460.3 1371.2" style="stroke-width:1.5"/>
<path d="M463.8 1348L463.8 1371.2" style="stroke-width:1.5"/>
<path d="M488.6 1348L488.6 1371.2" style="stroke-width:1.5"/>
<path d="M494.9 1348L494.9 1371.2" style="stroke-width:1.5"/>
<ellipse cx="447.95" cy="1359.6" rx="12.35" ry="11.6" style="stroke-width:1.5"/>
<path d="M446.05 1348V1357.7H435.6 M449.85 1348V1357.7H460.3 M446.05 1371.2V1361.5H435.6 M449.85 1371.2V1361.5H460.3" style="stroke-width:1.35"/>
<ellipse cx="476.2" cy="1359.6" rx="12.4" ry="11.6" style="stroke-width:1.5"/>
<path d="M474.3 1348V1357.7H463.8 M478.1 1348V1357.7H488.6 M474.3 1371.2V1361.5H463.8 M478.1 1371.2V1361.5H488.6" style="stroke-width:1.35"/>
<text class="s b" x="420.2" y="1364.61" font-size="14.3" textLength="14.4" lengthAdjust="spacingAndGlyphs" style="font-weight:700">29</text>
<text class="s b" x="504.3" y="1364.61" font-size="14.3" textLength="13.5" lengthAdjust="spacingAndGlyphs" style="font-weight:700">17</text>
<path d="M165 1376.15L214.65 1376.15" style="stroke-width:1.5"/>
<path d="M165 1399.35L214.65 1399.35" style="stroke-width:1.5"/>
<path d="M182.9 1376.15L182.9 1399.35" style="stroke-width:1.5"/>
<path d="M189.5 1376.15L189.5 1399.35" style="stroke-width:1.5"/>
<path d="M213.9 1376.15L213.9 1399.35" style="stroke-width:1.5"/>
<ellipse cx="201.7" cy="1387.75" rx="12.2" ry="11.6" style="stroke-width:1.5"/>
<path d="M199.8 1376.15V1385.85H189.5 M203.6 1376.15V1385.85H213.9 M199.8 1399.35V1389.65H189.5 M203.6 1399.35V1389.65H213.9" style="stroke-width:1.35"/>
<text class="s" x="173.8" y="1393.93" font-size="18" textLength="8.71" lengthAdjust="spacingAndGlyphs" style="font-weight:700">6</text>
<path d="M410.3 1376.15L460.3 1376.15" style="stroke-width:1.5"/>
<path d="M410.3 1399.35L460.3 1399.35" style="stroke-width:1.5"/>
<path d="M463.8 1376.15L513 1376.15" style="stroke-width:1.5"/>
<path d="M463.8 1399.35L513 1399.35" style="stroke-width:1.5"/>
<path d="M429.2 1376.15L429.2 1399.35" style="stroke-width:1.5"/>
<path d="M435.6 1376.15L435.6 1399.35" style="stroke-width:1.5"/>
<path d="M460.3 1376.15L460.3 1399.35" style="stroke-width:1.5"/>
<path d="M463.8 1376.15L463.8 1399.35" style="stroke-width:1.5"/>
<path d="M488.6 1376.15L488.6 1399.35" style="stroke-width:1.5"/>
<path d="M494.9 1376.15L494.9 1399.35" style="stroke-width:1.5"/>
<ellipse cx="447.95" cy="1387.75" rx="12.35" ry="11.6" style="stroke-width:1.5"/>
<path d="M446.05 1376.15V1385.85H435.6 M449.85 1376.15V1385.85H460.3 M446.05 1399.35V1389.65H435.6 M449.85 1399.35V1389.65H460.3" style="stroke-width:1.35"/>
<ellipse cx="476.2" cy="1387.75" rx="12.4" ry="11.6" style="stroke-width:1.5"/>
<path d="M474.3 1376.15V1385.85H463.8 M478.1 1376.15V1385.85H488.6 M474.3 1399.35V1389.65H463.8 M478.1 1399.35V1389.65H488.6" style="stroke-width:1.35"/>
<text class="s b" x="420.2" y="1392.76" font-size="14.3" textLength="14.4" lengthAdjust="spacingAndGlyphs" style="font-weight:700">30</text>
<text class="s b" x="504.3" y="1392.76" font-size="14.3" textLength="13.5" lengthAdjust="spacingAndGlyphs" style="font-weight:700">18</text>
<path d="M165 1404.3L214.65 1404.3" style="stroke-width:1.5"/>
<path d="M165 1427.5L214.65 1427.5" style="stroke-width:1.5"/>
<path d="M182.9 1404.3L182.9 1427.5" style="stroke-width:1.5"/>
<path d="M189.5 1404.3L189.5 1427.5" style="stroke-width:1.5"/>
<path d="M213.9 1404.3L213.9 1427.5" style="stroke-width:1.5"/>
<ellipse cx="201.7" cy="1415.9" rx="12.2" ry="11.6" style="stroke-width:1.5"/>
<path d="M199.8 1404.3V1414H189.5 M203.6 1404.3V1414H213.9 M199.8 1427.5V1417.8H189.5 M203.6 1427.5V1417.8H213.9" style="stroke-width:1.35"/>
<text class="s" x="173.8" y="1422.08" font-size="18" textLength="8.71" lengthAdjust="spacingAndGlyphs" style="font-weight:700">7</text>
<path d="M410.3 1404.3L460.3 1404.3" style="stroke-width:1.5"/>
<path d="M410.3 1427.5L460.3 1427.5" style="stroke-width:1.5"/>
<path d="M463.8 1404.3L513 1404.3" style="stroke-width:1.5"/>
<path d="M463.8 1427.5L513 1427.5" style="stroke-width:1.5"/>
<path d="M429.2 1404.3L429.2 1427.5" style="stroke-width:1.5"/>
<path d="M435.6 1404.3L435.6 1427.5" style="stroke-width:1.5"/>
<path d="M460.3 1404.3L460.3 1427.5" style="stroke-width:1.5"/>
<path d="M463.8 1404.3L463.8 1427.5" style="stroke-width:1.5"/>
<path d="M488.6 1404.3L488.6 1427.5" style="stroke-width:1.5"/>
<path d="M494.9 1404.3L494.9 1427.5" style="stroke-width:1.5"/>
<ellipse cx="447.95" cy="1415.9" rx="12.35" ry="11.6" style="stroke-width:1.5"/>
<path d="M446.05 1404.3V1414H435.6 M449.85 1404.3V1414H460.3 M446.05 1427.5V1417.8H435.6 M449.85 1427.5V1417.8H460.3" style="stroke-width:1.35"/>
<ellipse cx="476.2" cy="1415.9" rx="12.4" ry="11.6" style="stroke-width:1.5"/>
<path d="M474.3 1404.3V1414H463.8 M478.1 1404.3V1414H488.6 M474.3 1427.5V1417.8H463.8 M478.1 1427.5V1417.8H488.6" style="stroke-width:1.35"/>
<text class="s b" x="420.2" y="1420.91" font-size="14.3" textLength="14.4" lengthAdjust="spacingAndGlyphs" style="font-weight:700">31</text>
<text class="s b" x="504.3" y="1420.91" font-size="14.3" textLength="13.5" lengthAdjust="spacingAndGlyphs" style="font-weight:700">19</text>
<path d="M165 1432.45L214.65 1432.45" style="stroke-width:1.5"/>
<path d="M165 1455.65L214.65 1455.65" style="stroke-width:1.5"/>
<path d="M182.9 1432.45L182.9 1455.65" style="stroke-width:1.5"/>
<path d="M189.5 1432.45L189.5 1455.65" style="stroke-width:1.5"/>
<path d="M213.9 1432.45L213.9 1455.65" style="stroke-width:1.5"/>
<ellipse cx="201.7" cy="1444.05" rx="12.2" ry="11.6" style="stroke-width:1.5"/>
<path d="M199.8 1432.45V1442.15H189.5 M203.6 1432.45V1442.15H213.9 M199.8 1455.65V1445.95H189.5 M203.6 1455.65V1445.95H213.9" style="stroke-width:1.35"/>
<text class="s" x="173.8" y="1450.23" font-size="18" textLength="8.71" lengthAdjust="spacingAndGlyphs" style="font-weight:700">8</text>
<path d="M410.3 1432.45L460.3 1432.45" style="stroke-width:1.5"/>
<path d="M410.3 1455.65L460.3 1455.65" style="stroke-width:1.5"/>
<path d="M463.8 1432.45L513 1432.45" style="stroke-width:1.5"/>
<path d="M463.8 1455.65L513 1455.65" style="stroke-width:1.5"/>
<path d="M429.2 1432.45L429.2 1455.65" style="stroke-width:1.5"/>
<path d="M435.6 1432.45L435.6 1455.65" style="stroke-width:1.5"/>
<path d="M460.3 1432.45L460.3 1455.65" style="stroke-width:1.5"/>
<path d="M463.8 1432.45L463.8 1455.65" style="stroke-width:1.5"/>
<path d="M488.6 1432.45L488.6 1455.65" style="stroke-width:1.5"/>
<path d="M494.9 1432.45L494.9 1455.65" style="stroke-width:1.5"/>
<ellipse cx="447.95" cy="1444.05" rx="12.35" ry="11.6" style="stroke-width:1.5"/>
<path d="M446.05 1432.45V1442.15H435.6 M449.85 1432.45V1442.15H460.3 M446.05 1455.65V1445.95H435.6 M449.85 1455.65V1445.95H460.3" style="stroke-width:1.35"/>
<ellipse cx="476.2" cy="1444.05" rx="12.4" ry="11.6" style="stroke-width:1.5"/>
<path d="M474.3 1432.45V1442.15H463.8 M478.1 1432.45V1442.15H488.6 M474.3 1455.65V1445.95H463.8 M478.1 1455.65V1445.95H488.6" style="stroke-width:1.35"/>
<text class="s b" x="420.2" y="1449.06" font-size="14.3" textLength="14.4" lengthAdjust="spacingAndGlyphs" style="font-weight:700">32</text>
<text class="s b" x="504.3" y="1449.06" font-size="14.3" textLength="13.5" lengthAdjust="spacingAndGlyphs" style="font-weight:700">20</text>
<path d="M165 1460.6L214.65 1460.6" style="stroke-width:1.5"/>
<path d="M165 1483.8L214.65 1483.8" style="stroke-width:1.5"/>
<path d="M182.9 1460.6L182.9 1483.8" style="stroke-width:1.5"/>
<path d="M189.5 1460.6L189.5 1483.8" style="stroke-width:1.5"/>
<path d="M213.9 1460.6L213.9 1483.8" style="stroke-width:1.5"/>
<ellipse cx="201.7" cy="1472.2" rx="12.2" ry="11.6" style="stroke-width:1.5"/>
<path d="M199.8 1460.6V1470.3H189.5 M203.6 1460.6V1470.3H213.9 M199.8 1483.8V1474.1H189.5 M203.6 1483.8V1474.1H213.9" style="stroke-width:1.35"/>
<text class="s" x="173.8" y="1478.38" font-size="18" textLength="8.71" lengthAdjust="spacingAndGlyphs" style="font-weight:700">9</text>
<path d="M410.3 1460.6L460.3 1460.6" style="stroke-width:1.5"/>
<path d="M410.3 1483.8L460.3 1483.8" style="stroke-width:1.5"/>
<path d="M463.8 1460.6L513 1460.6" style="stroke-width:1.5"/>
<path d="M463.8 1483.8L513 1483.8" style="stroke-width:1.5"/>
<path d="M429.2 1460.6L429.2 1483.8" style="stroke-width:1.5"/>
<path d="M435.6 1460.6L435.6 1483.8" style="stroke-width:1.5"/>
<path d="M460.3 1460.6L460.3 1483.8" style="stroke-width:1.5"/>
<path d="M463.8 1460.6L463.8 1483.8" style="stroke-width:1.5"/>
<path d="M488.6 1460.6L488.6 1483.8" style="stroke-width:1.5"/>
<path d="M494.9 1460.6L494.9 1483.8" style="stroke-width:1.5"/>
<ellipse cx="447.95" cy="1472.2" rx="12.35" ry="11.6" style="stroke-width:1.5"/>
<path d="M446.05 1460.6V1470.3H435.6 M449.85 1460.6V1470.3H460.3 M446.05 1483.8V1474.1H435.6 M449.85 1483.8V1474.1H460.3" style="stroke-width:1.35"/>
<ellipse cx="476.2" cy="1472.2" rx="12.4" ry="11.6" style="stroke-width:1.5"/>
<path d="M474.3 1460.6V1470.3H463.8 M478.1 1460.6V1470.3H488.6 M474.3 1483.8V1474.1H463.8 M478.1 1483.8V1474.1H488.6" style="stroke-width:1.35"/>
<text class="s b" x="420.2" y="1477.21" font-size="14.3" textLength="14.4" lengthAdjust="spacingAndGlyphs" style="font-weight:700">33</text>
<text class="s b" x="504.3" y="1477.21" font-size="14.3" textLength="13.5" lengthAdjust="spacingAndGlyphs" style="font-weight:700">21</text>
<path d="M165 1488.75L214.65 1488.75" style="stroke-width:1.5"/>
<path d="M165 1511.95L214.65 1511.95" style="stroke-width:1.5"/>
<path d="M182.9 1488.75L182.9 1511.95" style="stroke-width:1.5"/>
<path d="M189.5 1488.75L189.5 1511.95" style="stroke-width:1.5"/>
<path d="M213.9 1488.75L213.9 1511.95" style="stroke-width:1.5"/>
<ellipse cx="201.7" cy="1500.35" rx="12.2" ry="11.6" style="stroke-width:1.5"/>
<path d="M199.8 1488.75V1498.45H189.5 M203.6 1488.75V1498.45H213.9 M199.8 1511.95V1502.25H189.5 M203.6 1511.95V1502.25H213.9" style="stroke-width:1.35"/>
<text class="s" x="174.3" y="1506.53" font-size="18" textLength="16.3" lengthAdjust="spacingAndGlyphs" style="font-weight:700">10</text>
<path d="M410.3 1488.75L460.3 1488.75" style="stroke-width:1.5"/>
<path d="M410.3 1511.95L460.3 1511.95" style="stroke-width:1.5"/>
<path d="M463.8 1488.75L513 1488.75" style="stroke-width:1.5"/>
<path d="M463.8 1511.95L513 1511.95" style="stroke-width:1.5"/>
<path d="M429.2 1488.75L429.2 1511.95" style="stroke-width:1.5"/>
<path d="M435.6 1488.75L435.6 1511.95" style="stroke-width:1.5"/>
<path d="M460.3 1488.75L460.3 1511.95" style="stroke-width:1.5"/>
<path d="M463.8 1488.75L463.8 1511.95" style="stroke-width:1.5"/>
<path d="M488.6 1488.75L488.6 1511.95" style="stroke-width:1.5"/>
<path d="M494.9 1488.75L494.9 1511.95" style="stroke-width:1.5"/>
<ellipse cx="447.95" cy="1500.35" rx="12.35" ry="11.6" style="stroke-width:1.5"/>
<path d="M446.05 1488.75V1498.45H435.6 M449.85 1488.75V1498.45H460.3 M446.05 1511.95V1502.25H435.6 M449.85 1511.95V1502.25H460.3" style="stroke-width:1.35"/>
<ellipse cx="476.2" cy="1500.35" rx="12.4" ry="11.6" style="stroke-width:1.5"/>
<path d="M474.3 1488.75V1498.45H463.8 M478.1 1488.75V1498.45H488.6 M474.3 1511.95V1502.25H463.8 M478.1 1511.95V1502.25H488.6" style="stroke-width:1.35"/>
<text class="s b" x="420.2" y="1505.36" font-size="14.3" textLength="14.4" lengthAdjust="spacingAndGlyphs" style="font-weight:700">34</text>
<text class="s b" x="504.3" y="1505.36" font-size="14.3" textLength="13.5" lengthAdjust="spacingAndGlyphs" style="font-weight:700">22</text>
<path d="M165 1516.9L214.65 1516.9" style="stroke-width:1.5"/>
<path d="M165 1540.1L214.65 1540.1" style="stroke-width:1.5"/>
<path d="M182.9 1516.9L182.9 1540.1" style="stroke-width:1.5"/>
<path d="M189.5 1516.9L189.5 1540.1" style="stroke-width:1.5"/>
<path d="M213.9 1516.9L213.9 1540.1" style="stroke-width:1.5"/>
<ellipse cx="201.7" cy="1528.5" rx="12.2" ry="11.6" style="stroke-width:1.5"/>
<path d="M199.8 1516.9V1526.6H189.5 M203.6 1516.9V1526.6H213.9 M199.8 1540.1V1530.4H189.5 M203.6 1540.1V1530.4H213.9" style="stroke-width:1.35"/>
<text class="s" x="174.3" y="1532.98" font-size="18" textLength="16.3" lengthAdjust="spacingAndGlyphs" style="font-weight:700">11</text>
<path d="M410.3 1516.9L460.3 1516.9" style="stroke-width:1.5"/>
<path d="M410.3 1540.1L460.3 1540.1" style="stroke-width:1.5"/>
<path d="M463.8 1516.9L513 1516.9" style="stroke-width:1.5"/>
<path d="M463.8 1540.1L513 1540.1" style="stroke-width:1.5"/>
<path d="M429.2 1516.9L429.2 1540.1" style="stroke-width:1.5"/>
<path d="M435.6 1516.9L435.6 1540.1" style="stroke-width:1.5"/>
<path d="M460.3 1516.9L460.3 1540.1" style="stroke-width:1.5"/>
<path d="M463.8 1516.9L463.8 1540.1" style="stroke-width:1.5"/>
<path d="M488.6 1516.9L488.6 1540.1" style="stroke-width:1.5"/>
<path d="M494.9 1516.9L494.9 1540.1" style="stroke-width:1.5"/>
<ellipse cx="447.95" cy="1528.5" rx="12.35" ry="11.6" style="stroke-width:1.5"/>
<path d="M446.05 1516.9V1526.6H435.6 M449.85 1516.9V1526.6H460.3 M446.05 1540.1V1530.4H435.6 M449.85 1540.1V1530.4H460.3" style="stroke-width:1.35"/>
<ellipse cx="476.2" cy="1528.5" rx="12.4" ry="11.6" style="stroke-width:1.5"/>
<path d="M474.3 1516.9V1526.6H463.8 M478.1 1516.9V1526.6H488.6 M474.3 1540.1V1530.4H463.8 M478.1 1540.1V1530.4H488.6" style="stroke-width:1.35"/>
<text class="s b" x="420.2" y="1533.51" font-size="14.3" textLength="14.4" lengthAdjust="spacingAndGlyphs" style="font-weight:700">35</text>
<text class="s b" x="504.3" y="1533.51" font-size="14.3" textLength="13.5" lengthAdjust="spacingAndGlyphs" style="font-weight:700">23</text>
<path d="M165 1545.05L214.65 1545.05" style="stroke-width:1.5"/>
<path d="M165 1568.25L214.65 1568.25" style="stroke-width:1.5"/>
<path d="M182.9 1545.05L182.9 1568.25" style="stroke-width:1.5"/>
<path d="M189.5 1545.05L189.5 1568.25" style="stroke-width:1.5"/>
<path d="M213.9 1545.05L213.9 1568.25" style="stroke-width:1.5"/>
<ellipse cx="201.7" cy="1556.65" rx="12.2" ry="11.6" style="stroke-width:1.5"/>
<path d="M199.8 1545.05V1554.75H189.5 M203.6 1545.05V1554.75H213.9 M199.8 1568.25V1558.55H189.5 M203.6 1568.25V1558.55H213.9" style="stroke-width:1.35"/>
<text class="s" x="174.3" y="1561.13" font-size="18" textLength="16.3" lengthAdjust="spacingAndGlyphs" style="font-weight:700">12</text>
<path d="M410.3 1545.05L460.3 1545.05" style="stroke-width:1.5"/>
<path d="M410.3 1568.25L460.3 1568.25" style="stroke-width:1.5"/>
<path d="M463.8 1545.05L513 1545.05" style="stroke-width:1.5"/>
<path d="M463.8 1568.25L513 1568.25" style="stroke-width:1.5"/>
<path d="M429.2 1545.05L429.2 1568.25" style="stroke-width:1.5"/>
<path d="M435.6 1545.05L435.6 1568.25" style="stroke-width:1.5"/>
<path d="M460.3 1545.05L460.3 1568.25" style="stroke-width:1.5"/>
<path d="M463.8 1545.05L463.8 1568.25" style="stroke-width:1.5"/>
<path d="M488.6 1545.05L488.6 1568.25" style="stroke-width:1.5"/>
<path d="M494.9 1545.05L494.9 1568.25" style="stroke-width:1.5"/>
<ellipse cx="447.95" cy="1556.65" rx="12.35" ry="11.6" style="stroke-width:1.5"/>
<path d="M446.05 1545.05V1554.75H435.6 M449.85 1545.05V1554.75H460.3 M446.05 1568.25V1558.55H435.6 M449.85 1568.25V1558.55H460.3" style="stroke-width:1.35"/>
<ellipse cx="476.2" cy="1556.65" rx="12.4" ry="11.6" style="stroke-width:1.5"/>
<path d="M474.3 1545.05V1554.75H463.8 M478.1 1545.05V1554.75H488.6 M474.3 1568.25V1558.55H463.8 M478.1 1568.25V1558.55H488.6" style="stroke-width:1.35"/>
<text class="s b" x="420.2" y="1561.66" font-size="14.3" textLength="14.4" lengthAdjust="spacingAndGlyphs" style="font-weight:700">36</text>
<text class="s b" x="504.3" y="1561.66" font-size="14.3" textLength="13.5" lengthAdjust="spacingAndGlyphs" style="font-weight:700">24</text>
<path d="M190 1533.3L197 1533.3" style="stroke:#e60012;stroke-width:2.6"/>
<path d="M190 1561.6L197.5 1561.6" style="stroke-width:2.2"/>
<path d="M481.8 1420.7L710.3 1420.7L710.3 1501.8" style="stroke:#e4007f;stroke-width:2.4"/>
<path d="M481.8 1449.2L577.7 1449.2L577.7 1429.8L695 1429.8L695.5 1501.8" style="stroke:#00a0e9;stroke-width:2.4"/>
<text class="m" x="522.2" y="1411.8" font-size="13.5" textLength="40" lengthAdjust="spacingAndGlyphs" style="text-anchor:start">mAin+</text>
<text class="m" x="522.2" y="1465.4" font-size="13.5" textLength="40" lengthAdjust="spacingAndGlyphs" style="text-anchor:start">mAin-</text>
<path d="M577 1234.2L597 1234.2" style="stroke:#8c8c8c"/>
<path d="M617 1234.2L638 1234.2" style="stroke:#8c8c8c"/>
<path d="M657 1234.2L678 1234.2" style="stroke:#8c8c8c"/>
<path d="M697 1234.2L718 1234.2" style="stroke:#8c8c8c"/>
<path d="M738 1234.2L758 1234.2" style="stroke:#8c8c8c"/>
<path d="M577 1337.9L597 1337.9" style="stroke:#8c8c8c"/>
<path d="M617 1337.9L638 1337.9" style="stroke:#8c8c8c"/>
<path d="M657 1337.9L678 1337.9" style="stroke:#8c8c8c"/>
<path d="M697 1337.9L718 1337.9" style="stroke:#8c8c8c"/>
<path d="M738 1337.9L758 1337.9" style="stroke:#8c8c8c"/>
<path d="M547.4 1259L547.4 1275" style="stroke:#8c8c8c"/>
<path d="M547.4 1300L547.4 1313" style="stroke:#8c8c8c"/>
<path d="M789 1259L789 1275" style="stroke:#8c8c8c"/>
<path d="M789 1300L789 1313" style="stroke:#8c8c8c"/>
<path d="M547.4 1244.2L547.4 1234.2L557.4 1234.2" style="stroke:#8c8c8c"/>
<path d="M779 1234.2L789 1234.2L789 1244.2" style="stroke:#8c8c8c"/>
<path d="M547.4 1327.9L547.4 1337.9L557.4 1337.9" style="stroke:#8c8c8c"/>
<path d="M779 1337.9L789 1337.9L789 1327.9" style="stroke:#8c8c8c"/>
<text class="s" x="561.2" y="1260.3" font-size="15.3" textLength="61.5" lengthAdjust="spacingAndGlyphs" style="text-anchor:start;font-weight:500">工作电源</text>
<text class="s" x="685.2" y="1261.9" font-size="15.3" textLength="61.5" lengthAdjust="spacingAndGlyphs" style="text-anchor:start;font-weight:500">流量输入</text>
<path d="M562.7 1272.7L611.1 1272.7" style="stroke-width:1.6"/>
<path d="M562.7 1295.8L611.1 1295.8" style="stroke-width:1.6"/>
<path d="M579.4 1272.7L579.4 1295.8" style="stroke-width:1.6"/>
<path d="M586 1272.7L586 1295.8" style="stroke-width:1.6"/>
<path d="M610.3 1272.7L610.3 1295.8" style="stroke-width:1.6"/>
<circle cx="598.15" cy="1284.25" r="10.95" style="stroke-width:1.6"/>
<path d="M596.35 1272.7V1282.45H586 M599.95 1272.7V1282.45H610.3 M596.35 1295.8V1286.05H586 M599.95 1295.8V1286.05H610.3" style="stroke-width:1.44"/>
<text class="s" x="571.55" y="1288.57" font-size="12" textLength="11.61" lengthAdjust="spacingAndGlyphs" style="font-weight:700">11</text>
<path d="M562.7 1300L611.1 1300" style="stroke-width:1.6"/>
<path d="M562.7 1323L611.1 1323" style="stroke-width:1.6"/>
<path d="M579.4 1300L579.4 1323" style="stroke-width:1.6"/>
<path d="M586 1300L586 1323" style="stroke-width:1.6"/>
<path d="M610.3 1300L610.3 1323" style="stroke-width:1.6"/>
<circle cx="598.15" cy="1311.5" r="10.9" style="stroke-width:1.6"/>
<path d="M596.35 1300V1309.7H586 M599.95 1300V1309.7H610.3 M596.35 1323V1313.3H586 M599.95 1323V1313.3H610.3" style="stroke-width:1.44"/>
<text class="s" x="571.55" y="1315.82" font-size="12" textLength="11.61" lengthAdjust="spacingAndGlyphs" style="font-weight:700">12</text>
<path d="M610.3 1284.8L635.7 1284.8" style="stroke-width:1.6"/>
<circle cx="638.2" cy="1284.8" r="2.5" style="stroke-width:1.4"/>
<path d="M610.3 1312.4L635.7 1312.4" style="stroke-width:1.6"/>
<circle cx="638.2" cy="1312.4" r="2.5" style="stroke-width:1.4"/>
<text class="s" x="623.3" y="1282" font-size="14" textLength="7" lengthAdjust="spacingAndGlyphs">L</text>
<text class="s" x="625.5" y="1328" font-size="14" textLength="7.5" lengthAdjust="spacingAndGlyphs">N</text>
<text class="s" x="624.8" y="1305.3" font-size="15" textLength="46.2" lengthAdjust="spacingAndGlyphs" style="text-anchor:start">AC220V</text>
<path d="M684 1271.5L733.8 1271.5" style="stroke-width:1.6"/>
<path d="M684 1295.8L733.8 1295.8" style="stroke-width:1.6"/>
<path d="M701.8 1271.5L701.8 1295.8" style="stroke-width:1.6"/>
<path d="M707.9 1271.5L707.9 1295.8" style="stroke-width:1.6"/>
<path d="M733 1271.5L733 1295.8" style="stroke-width:1.6"/>
<circle cx="720.45" cy="1283.65" r="11.55" style="stroke-width:1.6"/>
<path d="M718.65 1271.5V1281.85H707.9 M722.25 1271.5V1281.85H733 M718.65 1295.8V1285.45H707.9 M722.25 1295.8V1285.45H733" style="stroke-width:1.44"/>
<text class="s" x="693.4" y="1288.51" font-size="13.5" textLength="13.06" lengthAdjust="spacingAndGlyphs" style="font-weight:700">19</text>
<path d="M684 1300L733.8 1300" style="stroke-width:1.6"/>
<path d="M684 1323L733.8 1323" style="stroke-width:1.6"/>
<path d="M701.8 1300L701.8 1323" style="stroke-width:1.6"/>
<path d="M707.9 1300L707.9 1323" style="stroke-width:1.6"/>
<path d="M733 1300L733 1323" style="stroke-width:1.6"/>
<circle cx="720.45" cy="1311.5" r="10.9" style="stroke-width:1.6"/>
<path d="M718.65 1300V1309.7H707.9 M722.25 1300V1309.7H733 M718.65 1323V1313.3H707.9 M722.25 1323V1313.3H733" style="stroke-width:1.44"/>
<text class="s" x="693.4" y="1316.36" font-size="13.5" textLength="13.06" lengthAdjust="spacingAndGlyphs" style="font-weight:700">24</text>
<path d="M733 1283.3L758.4 1283.3" style="stroke-width:1.6"/>
<circle cx="760.9" cy="1283.3" r="2.5" style="stroke-width:1.4"/>
<path d="M733 1310L758.4 1310" style="stroke-width:1.6"/>
<circle cx="760.9" cy="1310" r="2.5" style="stroke-width:1.4"/>
<path d="M739 1276L747 1276" style="stroke-width:1.6"/>
<path d="M743 1272L743 1280" style="stroke-width:1.6"/>
<path d="M739 1320L747 1320" style="stroke-width:1.6"/>
<text class="m" x="742" y="1300.4" font-size="13" textLength="31.3" lengthAdjust="spacingAndGlyphs" style="text-anchor:start">mAin</text>
<text class="s" x="705" y="1385.1" font-size="15" textLength="77" lengthAdjust="spacingAndGlyphs">电磁流量计</text>
<rect x="623.8" y="1399.5" width="5.9" height="49" style="stroke-width:1.1;fill:#f8f8f8"/>
<rect x="612.1" y="1397.6" width="11.7" height="52.7" style="stroke-width:1.3;fill:#f8f8f8" rx="3"/>
<path d="M614.3 1408.5L621.6 1408.5" style="stroke-width:0.8"/>
<path d="M614.3 1412L621.6 1412" style="stroke-width:0.8"/>
<path d="M614.3 1433.3L621.6 1433.3" style="stroke-width:0.8"/>
<path d="M614.3 1437L621.6 1437" style="stroke-width:0.8"/>
<path d="M615.3 1399L615.3 1449" style="stroke-width:0.8"/>
<path d="M620.6 1399L620.6 1449" style="stroke-width:0.8"/>
<rect x="791.5" y="1399.5" width="6.1" height="49" style="stroke-width:1.1;fill:#f8f8f8"/>
<rect x="797.6" y="1397.6" width="12.1" height="52.7" style="stroke-width:1.3;fill:#f8f8f8" rx="3"/>
<path d="M799.8 1408.5L807.5 1408.5" style="stroke-width:0.8"/>
<path d="M799.8 1412L807.5 1412" style="stroke-width:0.8"/>
<path d="M799.8 1433.3L807.5 1433.3" style="stroke-width:0.8"/>
<path d="M799.8 1437L807.5 1437" style="stroke-width:0.8"/>
<path d="M800.8 1399L800.8 1449" style="stroke-width:0.8"/>
<path d="M806.5 1399L806.5 1449" style="stroke-width:0.8"/>
<path d="M629.7 1458 V1394.5 Q629.7 1392.8 631.4 1392.8 H789.8 Q791.5 1392.8 791.5 1394.5 V1458" style="stroke-width:1.5;fill:#f8f8f8"/>
<path d="M632 1392.8 q1 -2 4 -2 h4 q3 0 4 2" style="stroke-width:1"/>
<path d="M778.2 1392.8 q1 -2 4 -2 h4 q3 0 4 2" style="stroke-width:1"/>
<path d="M629.7 1395.9L791.5 1395.9" style="stroke-width:0.9"/>
<path d="M628.5 1451 q-3.2 1 -3.2 4.5 v43 q0 3 2.2 4.5" style="stroke-width:1"/>
<path d="M631.6 1452L631.6 1503" style="stroke-width:0.9"/>
<circle cx="627.6" cy="1456.8" r="2.3" style="stroke-width:0.9;fill:#f8f8f8"/>
<circle cx="627.8" cy="1500" r="2.6" style="stroke-width:0.9;fill:#f8f8f8"/>
<path d="M641 1519 L646.5 1535 M645 1549.5 H672 Q680 1549.5 684 1553"/>
<rect x="630" y="1531.8" width="13.6" height="19.2" style="stroke-width:1.1;fill:#f8f8f8" rx="4.5"/>
<path d="M633.6 1532.6L633.6 1550.2" style="stroke-width:0.8"/>
<path d="M637.6 1532L637.6 1551" style="stroke-width:0.8"/>
<path d="M630.3 1541.4L633.6 1541.4" style="stroke-width:0.8"/>
<path d="M783.6 1515 L784.8 1519 V1535.5 Q784.8 1538.3 782 1539 L772.5 1542.3" style="fill:#f8f8f8"/>
<circle cx="711.2" cy="1477.5" r="80.5" style="stroke-width:1.5;fill:#f8f8f8"/>
<circle cx="711.2" cy="1477.5" r="76" style="stroke-width:1"/>
<circle cx="711.2" cy="1477.5" r="71.4" style="stroke-width:2.3"/>
<circle cx="711.2" cy="1477.5" r="66.6" style="stroke-width:1"/>
<circle cx="711.2" cy="1477.5" r="63" style="stroke-width:1"/>
<circle cx="652.7" cy="1541.5" r="7.4" style="stroke-width:1.9;fill:#f8f8f8"/>
<circle cx="652.7" cy="1541.5" r="3.5" style="stroke-width:1"/>
<circle cx="777.3" cy="1534.5" r="2.8" style="stroke-width:1;fill:#f8f8f8"/>
<path d="M654 1438.6 H702.4 V1442.4 L699.5 1446 H666.5 L665.5 1443.2 H654.6 Z" style="stroke-width:1.1"/>
<path d="M720 1438.6 H769 L768.3 1443.2 H757 L756 1446 H720" style="stroke-width:1.1"/>
<path d="M650.5 1447.3L772 1447.3" style="stroke-width:1"/>
<path d="M720 1409 V1447 M733.2 1411 V1424 Q733.2 1431.5 725.5 1431.5" style="stroke-width:1"/>
<path d="M652.5 1452.5 Q653.5 1448.8 657 1448.8 H683.5 Q686.8 1448.8 686.8 1452 V1490" style="stroke-width:1"/>
<path d="M735.6 1490 V1452 Q735.6 1448.8 739 1448.8 H765.5 Q769 1448.8 770 1452.5" style="stroke-width:1"/>
<path d="M751 1491L772.5 1491" style="stroke-width:0.9"/>
<path d="M701.5 1539.7 Q702 1527 711 1527 Q720 1527 720.6 1539.7" style="stroke-width:1.1;fill:#f8f8f8"/>
<circle cx="710.9" cy="1536.4" r="6.6" style="stroke-width:1.5;fill:#f8f8f8"/>
<path d="M706.9 1536.4L714.9 1536.4" style="stroke-width:2"/>
<path d="M710.9 1532.4L710.9 1540.4" style="stroke-width:2"/>
<rect x="686.6" y="1490" width="63.6" height="25.5" style="stroke-width:1.4;fill:#f8f8f8"/>
<path d="M686.6 1512.8L750.2 1512.8" style="stroke-width:0.9"/>
<path d="M702.7 1490L702.7 1515.5" style="stroke-width:2.6"/>
<path d="M718.6 1490L718.6 1515.5" style="stroke-width:2.6"/>
<path d="M734.1 1490L734.1 1515.5" style="stroke-width:2.6"/>
<circle cx="696" cy="1503.1" r="4.8"/>
<path d="M693.1 1503.1L698.9 1503.1" style="stroke-width:1.6"/>
<path d="M696 1500.2L696 1506" style="stroke-width:1.6"/>
<text class="r" x="694.1" y="1524.3" font-size="7.4" textLength="17.2" lengthAdjust="spacingAndGlyphs">COM</text>
<circle cx="710.4" cy="1503.1" r="4.8"/>
<path d="M707.5 1503.1L713.3 1503.1" style="stroke-width:1.6"/>
<path d="M710.4 1500.2L710.4 1506" style="stroke-width:1.6"/>
<text class="r" x="711.9" y="1524.3" font-size="7.4" textLength="7.3" lengthAdjust="spacingAndGlyphs">I+</text>
<circle cx="725.5" cy="1503.1" r="4.8"/>
<path d="M722.6 1503.1L728.4 1503.1" style="stroke-width:1.6"/>
<path d="M725.5 1500.2L725.5 1506" style="stroke-width:1.6"/>
<text class="r" x="726.9" y="1522.7" font-size="7.4" textLength="8.3" lengthAdjust="spacingAndGlyphs">L2</text>
<circle cx="740.9" cy="1503.1" r="4.8"/>
<path d="M738 1503.1L743.8 1503.1" style="stroke-width:1.6"/>
<path d="M740.9 1500.2L740.9 1506" style="stroke-width:1.6"/>
<text class="r" x="740.5" y="1522.7" font-size="7.4" textLength="8.1" lengthAdjust="spacingAndGlyphs" style="font-weight:700">L1</text>
<path d="M862.2 1160.4L862.2 1420.6L725.4 1420.6L725.4 1502" style="stroke-width:2"/>
<path d="M882.5 1121L882.5 1431.2L740.9 1431.2L740.9 1502" style="stroke:#e60012;stroke-width:2.6"/>
<circle cx="882.6" cy="1121" r="6" style="fill:#e60012;stroke:none"/>
<circle cx="862.2" cy="1160.4" r="6" style="fill:#231815;stroke:none"/>
<path d="M600 1420.7L710.3 1420.7L710.3 1501.8" style="stroke:#e4007f;stroke-width:2.4"/>
<path d="M600 1429.8L695 1429.8L696 1502" style="stroke:#00a0e9;stroke-width:2.4"/>
<text class="s b" x="826.2" y="1411.8" font-size="17.3" textLength="10" lengthAdjust="spacingAndGlyphs">N</text>
<text class="s b" x="828.8" y="1450.8" font-size="17.3" textLength="8.8" lengthAdjust="spacingAndGlyphs">L</text>
</svg>
</body></html>
